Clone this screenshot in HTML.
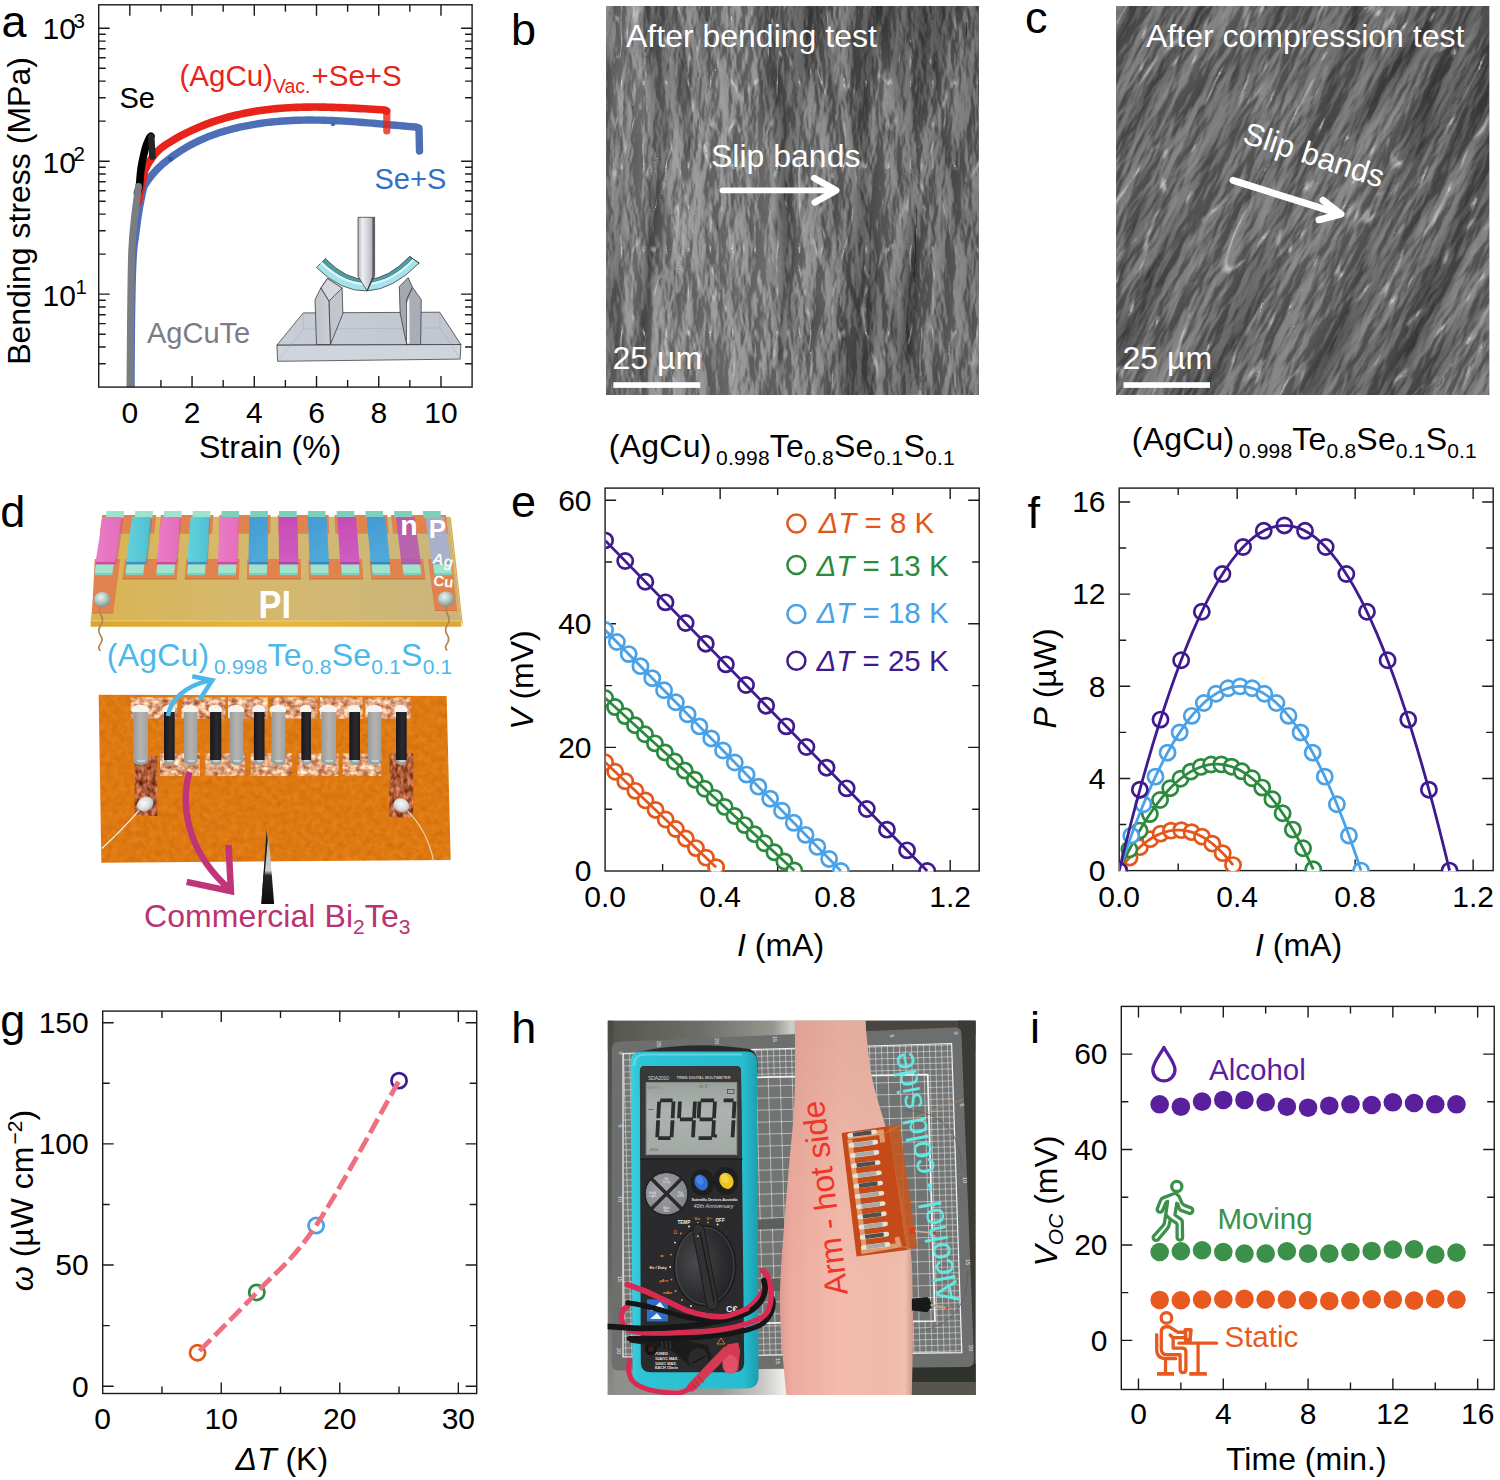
<!DOCTYPE html>
<html><head><meta charset="utf-8"><title>Figure</title>
<style>html,body{margin:0;padding:0;background:#fff}svg{display:block}text{font-family:"Liberation Sans",sans-serif}</style>
</head><body>
<svg width="1500" height="1480" viewBox="0 0 1500 1480" font-family="Liberation Sans, sans-serif">
<rect width="1500" height="1480" fill="#fff"/>
<!-- panel_a -->
<g id="panel_a">
<path d="M129.82 387.1v-11M129.82 4.8v11M192.05 387.1v-11M192.05 4.8v11M254.28 387.1v-11M254.28 4.8v11M316.52 387.1v-11M316.52 4.8v11M378.75 387.1v-11M378.75 4.8v11M440.98 387.1v-11M440.98 4.8v11M160.93 387.1v-7M160.93 4.8v7M223.17 387.1v-7M223.17 4.8v7M285.4 387.1v-7M285.4 4.8v7M347.63 387.1v-7M347.63 4.8v7M409.87 387.1v-7M409.87 4.8v7M98.7 294.16h11M472.1 294.16h-11M98.7 161.19h11M472.1 161.19h-11M98.7 28.22h11M472.1 28.22h-11M98.7 363.68h7M472.1 363.68h-7M98.7 347.07h7M472.1 347.07h-7M98.7 334.19h7M472.1 334.19h-7M98.7 323.66h7M472.1 323.66h-7M98.7 314.75h7M472.1 314.75h-7M98.7 307.04h7M472.1 307.04h-7M98.7 300.24h7M472.1 300.24h-7M98.7 254.13h7M472.1 254.13h-7M98.7 230.71h7M472.1 230.71h-7M98.7 214.1h7M472.1 214.1h-7M98.7 201.21h7M472.1 201.21h-7M98.7 190.69h7M472.1 190.69h-7M98.7 181.78h7M472.1 181.78h-7M98.7 174.07h7M472.1 174.07h-7M98.7 167.27h7M472.1 167.27h-7M98.7 121.16h7M472.1 121.16h-7M98.7 97.74h7M472.1 97.74h-7M98.7 81.13h7M472.1 81.13h-7M98.7 68.24h7M472.1 68.24h-7M98.7 57.71h7M472.1 57.71h-7M98.7 48.81h7M472.1 48.81h-7M98.7 41.1h7M472.1 41.1h-7M98.7 34.3h7M472.1 34.3h-7" stroke="#1a1a1a" stroke-width="1.4" fill="none"/>
<g fill="none" stroke-linecap="round" stroke-linejoin="round">
<path d="M131 387 L131.02 381 L131.05 375 L131.08 369 L131.12 363 L131.16 357 L131.21 351 L131.26 345 L131.31 339 L131.36 333 L131.43 327 L131.5 321 L131.57 315 L131.66 309 L131.75 303 L131.86 297 L131.98 291 L132.11 285 L132.27 279 L132.46 273 L132.69 267 L132.96 261 L133.28 255 L133.68 249 L134.43 243 L135.33 237 L136.1 231 L136.86 225 L137.69 219 L138.61 213 L139.62 207 L140.73 201 L141.96 195 L143.32 189 L143.8 186.66 L147.8 180.55 L151.8 175.27 L155.8 170.68 L159.8 166.66 L163.8 163.1 L167.8 159.88 L171.8 156.88 L175.8 154.06 L179.8 151.4 L183.8 148.9 L187.8 146.56 L191.8 144.37 L195.8 142.32 L199.8 140.4 L203.8 138.61 L207.8 136.95 L211.8 135.39 L215.8 133.95 L219.8 132.61 L223.8 131.36 L227.8 130.21 L231.8 129.13 L235.8 128.13 L239.8 127.2 L243.8 126.33 L247.8 125.53 L251.8 124.8 L255.8 124.12 L259.8 123.5 L263.8 122.94 L267.8 122.44 L271.8 121.98 L275.8 121.59 L279.8 121.24 L283.8 120.94 L287.8 120.69 L291.8 120.48 L295.8 120.31 L299.8 120.19 L303.8 120.11 L307.8 120.07 L311.8 120.06 L315.8 120.09 L319.8 120.15 L323.8 120.24 L327.8 120.36 L331.8 120.52 L335.8 120.69 L339.8 120.89 L343.8 121.12 L347.8 121.36 L351.8 121.62 L355.8 121.91 L359.8 122.2 L363.8 122.51 L367.8 122.84 L371.8 123.17 L375.8 123.51 L379.8 123.86 L383.8 124.22 L387.8 124.58 L391.8 124.94 L395.8 125.3 L399.8 125.66 L403.8 126.01 L407.8 126.37 L411.8 126.71 L415.8 127.05 L416 127.06 L419 128 L419.5 151" stroke="#4c6fb7" stroke-width="7.4"/>
<circle cx="170.5" cy="159" r="2.6" fill="#3256a8" stroke="none"/>
<circle cx="333" cy="124" r="2.2" fill="#456bb4" stroke="none"/>
<path d="M138.3 202 L139.36 196 L140.68 190 L141.97 184 L143.2 178 L144.4 172 L144.6 170.33 L148.6 162.92 L152.6 157 L156.6 152.31 L160.6 148.58 L164.6 145.54 L168.6 142.91 L172.6 140.47 L176.6 138.14 L180.6 135.93 L184.6 133.83 L188.6 131.84 L192.6 129.95 L196.6 128.16 L200.6 126.47 L204.6 124.87 L208.6 123.36 L212.6 121.94 L216.6 120.6 L220.6 119.33 L224.6 118.15 L228.6 117.03 L232.6 115.98 L236.6 115.01 L240.6 114.1 L244.6 113.26 L248.6 112.48 L252.6 111.76 L256.6 111.1 L260.6 110.5 L264.6 109.95 L268.6 109.46 L272.6 109.02 L276.6 108.63 L280.6 108.29 L284.6 108 L288.6 107.74 L292.6 107.54 L296.6 107.37 L300.6 107.24 L304.6 107.14 L308.6 107.08 L312.6 107.06 L316.6 107.06 L320.6 107.09 L324.6 107.15 L328.6 107.24 L332.6 107.35 L336.6 107.48 L340.6 107.62 L344.6 107.79 L348.6 107.97 L352.6 108.16 L356.6 108.37 L360.6 108.59 L364.6 108.81 L368.6 109.04 L372.6 109.27 L376.6 109.51 L380.6 109.74 L384.5 109.97 L386.6 111" stroke="#e8241a" stroke-width="7.6"/>
<path d="M386.8 111 L386.8 131" stroke="#e8241a" stroke-opacity="0.8" stroke-width="7.2"/>
<path d="M137.5 193C137.82 191.8 138.82 189.8 139.4 185.8C139.98 181.8 140.17 174.63 141 169C141.83 163.37 143.4 156.23 144.4 152C145.4 147.77 146.18 145.9 147 143.6C147.82 141.3 148.65 139.43 149.3 138.2C149.95 136.97 150.63 136.53 150.9 136.2" stroke="#000" stroke-width="7.6"/>
<path d="M151.2 137 L152.4 156.5" stroke="#262626" stroke-width="6.6"/>
<path d="M130 387C130.05 380.83 130.17 364.5 130.3 350C130.43 335.5 130.55 316.67 130.8 300C131.05 283.33 131.22 263.4 131.8 250C132.38 236.6 133.18 230.18 134.3 219.6C135.42 209.02 137.8 192.02 138.5 186.5" stroke="#7b7d84" stroke-width="7"/>
</g>
<rect x="120" y="387.1" width="30" height="8" fill="#fff"/>
<rect x="98.7" y="4.8" width="373.4" height="382.3" fill="none" stroke="#1a1a1a" stroke-width="1.4"/>
<text x="129.82" y="422.6" font-size="30" text-anchor="middle" fill="#000" >0</text>
<text x="192.05" y="422.6" font-size="30" text-anchor="middle" fill="#000" >2</text>
<text x="254.28" y="422.6" font-size="30" text-anchor="middle" fill="#000" >4</text>
<text x="316.52" y="422.6" font-size="30" text-anchor="middle" fill="#000" >6</text>
<text x="378.75" y="422.6" font-size="30" text-anchor="middle" fill="#000" >8</text>
<text x="440.98" y="422.6" font-size="30" text-anchor="middle" fill="#000" >10</text>
<text x="42.6" y="39.4" font-size="30">10<tspan font-size="20.5" dy="-11.8" dx="-2.6">3</tspan></text>
<text x="42.6" y="172.8" font-size="30">10<tspan font-size="20.5" dy="-11.8" dx="-2.6">2</tspan></text>
<text x="42.6" y="305.9" font-size="30">10<tspan font-size="20.5" dy="-11.8" dx="-0.6">1</tspan></text>
<text x="199" y="458" font-size="32" text-anchor="start" fill="#000" >Strain (%)</text>
<text transform="translate(29.6,211) rotate(-90)" font-size="32" text-anchor="middle" fill="#000" >Bending stress (MPa)</text>
<text x="1.6" y="36.6" font-size="45" text-anchor="start" fill="#000" >a</text>
<text x="119.5" y="107.5" font-size="29" text-anchor="start" fill="#000" >Se</text>
<text x="179.5" y="86.3" font-size="29.5" fill="#e8241a">(AgCu)<tspan font-size="19.5" dy="6.5">Vac.</tspan><tspan dy="-6.5" dx="1">+Se+S</tspan></text>
<text x="374.5" y="189.3" font-size="29" text-anchor="start" fill="#3270c4" >Se+S</text>
<text x="147" y="343.3" font-size="29" text-anchor="start" fill="#7c7c88" >AgCuTe</text>
<g stroke="#33363b" stroke-width="0.75" stroke-linejoin="round">
<defs>
<linearGradient id="aInd" x1="0" x2="1"><stop offset="0" stop-color="#b4b6bd"/><stop offset="0.3" stop-color="#eeeff2"/><stop offset="0.75" stop-color="#c8cad0"/><stop offset="1" stop-color="#a6a8af"/></linearGradient>
<linearGradient id="aSup" x1="0" x2="1"><stop offset="0" stop-color="#bfc3ca"/><stop offset="1" stop-color="#cdd0d6"/></linearGradient>
<linearGradient id="aBase" x1="0" x2="1"><stop offset="0" stop-color="#c9ced6"/><stop offset="1" stop-color="#c0c5ce"/></linearGradient>
</defs>
<path d="M303.3 312.9 L439.7 312.2 L460.9 344.5 L276.9 345.2Z" fill="url(#aBase)"/>
<path d="M276.9 345.2 L460.9 344.5 L460.2 359.1 L277.6 361.3Z" fill="#d0d5dd"/>
<path d="M277.6 361.3 L303.5 329 L440 328 L460.2 359.1 M303.5 329 L303.3 312.9 M440 328 L439.7 312.2" fill="none" stroke="#9da3ad" stroke-width="0.4"/>
<!-- left support -->
<path d="M328.9 301.2 L320.9 288 L327.5 278.5 L342.1 288 L342.9 313.7 L330.4 344.5Z" fill="#c2c5cc"/>
<path d="M320.9 288 L327.5 278.5 L342.1 288 L328.9 301.2Z" fill="#d4d7dc"/>
<path d="M316.5 344.5 L315 299.7 L320.9 288 L328.9 301.2 L330.4 344.5Z" fill="url(#aSup)"/>
<!-- right support -->
<path d="M406.7 299.7 L412.5 287.3 L408.1 277.7 L399.3 286.5 L400.1 312.9 L406.7 344.5Z" fill="#a4a8b1"/>
<path d="M406.7 344.5 L406.7 299.7 L412.5 287.3 L421.3 299.7 L420.6 344.5Z" fill="#a9adb5"/>
<path d="M406.9 303 L409.3 298 L409.6 343.5 L406.9 343.5Z" fill="#f4f5f7" stroke="none"/>
<!-- specimen arc -->
<path d="M325.3 258.7 Q367.1 301.5 409.6 256.5 L419.1 263.1 Q366.4 316.5 316.5 267.5Z" fill="#a3e3e9"/>
<path d="M325.3 258.7 Q367.1 301.5 409.6 256.5 L413 258.8 Q367 305.5 322 261.8Z" fill="#4f9da4" stroke-width="0.4"/>
<path d="M322 261.8 Q367 305.5 413 258.8 L414.8 260 Q367 308.5 320.2 263.6Z" fill="#d9f6f8" stroke="none"/>
<path d="M409.6 256.5 L419.1 263.1 L418.3 264.2" fill="none"/>
<!-- indenter -->
<path d="M358 217.3 L373.2 217.3 L373.2 276.3 L367.1 290.9 L358 276.3Z" fill="url(#aInd)"/>
<path d="M373.2 217.3 L374.6 217.3 L374.6 275.8 L367.1 290.9 L373.2 276.3Z" fill="#8e9098"/>
</g>
</g>
<!-- panel_b -->
<g id="panel_b">
<defs>
<filter id="semB" x="0" y="0" width="1" height="1" color-interpolation-filters="sRGB">
<feTurbulence type="fractalNoise" baseFrequency="0.015 0.003" numOctaves="2" seed="11" result="a"/>
<feTurbulence type="fractalNoise" baseFrequency="0.05 0.016" numOctaves="4" seed="4" result="b"/>
<feColorMatrix in="a" type="matrix" values="1 0 0 0 0 1 0 0 0 0 1 0 0 0 0 0 0 0 0 1" result="ag"/>
<feColorMatrix in="b" type="matrix" values="0 1 0 0 0 0 1 0 0 0 0 1 0 0 0 0 0 0 0 1" result="bg"/>
<feComposite in="ag" in2="bg" operator="arithmetic" k1="0" k2="0.9" k3="1.1" k4="-0.5" result="h"/>
<feColorMatrix in="h" type="matrix" values="0 0 0 0 0 0 0 0 0 0 0 0 0 0 0 1 0 0 0 0" result="ha"/>
<feDiffuseLighting in="ha" surfaceScale="11" diffuseConstant="1" lighting-color="#fff" result="lit"><feDistantLight azimuth="0" elevation="32"/></feDiffuseLighting>
<feComposite in="lit" in2="h" operator="arithmetic" k1="0" k2="0.72" k3="0.280" k4="0" result="m"/>
<feComponentTransfer in="m" result="base"><feFuncR type="linear" slope="0.34" intercept="0.3"/><feFuncG type="linear" slope="0.34" intercept="0.3"/><feFuncB type="linear" slope="0.34" intercept="0.3"/></feComponentTransfer>
<feTurbulence type="turbulence" baseFrequency="0.017 0.0017" numOctaves="2" seed="21" result="tg"/>
<feColorMatrix in="tg" type="matrix" values="1.512 0 0 0 0.580 1.512 0 0 0 0.580 1.512 0 0 0 0.580 0 0 0 0 1" result="gm"/>
<feBlend in="base" in2="gm" mode="multiply" result="bg2"/>
<feTurbulence type="turbulence" baseFrequency="0.045 0.012" numOctaves="3" seed="5" result="tr"/>
<feColorMatrix in="tr" type="matrix" values="-4.000 0 0 0 0.5 -4.000 0 0 0 0.5 -4.000 0 0 0 0.5 0 0 0 0 1" result="rg"/>
<feBlend in="bg2" in2="rg" mode="screen"/>
</filter>
<clipPath id="clipB"><rect x="606" y="6" width="372.4" height="389"/></clipPath>
</defs>
<rect x="606" y="6" width="372.4" height="389" fill="#727272"/>
<rect x="606" y="6" width="372.4" height="389" filter="url(#semB)"/>
<linearGradient id="bGr" x1="0" x2="1"><stop offset="0" stop-color="#fff" stop-opacity="0.10"/><stop offset="0.45" stop-color="#fff" stop-opacity="0.04"/><stop offset="0.6" stop-color="#000" stop-opacity="0.05"/><stop offset="1" stop-color="#000" stop-opacity="0.12"/></linearGradient><rect x="606" y="6" width="372.4" height="389" fill="url(#bGr)"/>
<text x="626" y="47.3" font-size="32" text-anchor="start" fill="#fff" >After bending test</text>
<text x="711" y="167.3" font-size="32" text-anchor="start" fill="#fff" >Slip bands</text>
<path d="M722.5 190.3 H835" fill="none" stroke="#fff" stroke-width="5.7" stroke-linecap="round"/><path d="M814.3 178.2 L836.2 190.3 L814.8 202.4" fill="none" stroke="#fff" stroke-width="6.6" stroke-linecap="round" stroke-linejoin="round"/>
<text x="612.5" y="369" font-size="32" text-anchor="start" fill="#fff" >25 µm</text>
<rect x="613.3" y="382.2" width="87" height="5.7" fill="#fff"/>
<text x="608.8" y="457.3" font-size="32" textLength="346">(AgCu)<tspan font-size="21" dy="7.6" dx="4.5">0.998</tspan><tspan dy="-7.6">Te</tspan><tspan font-size="21" dy="7.6">0.8</tspan><tspan dy="-7.6">Se</tspan><tspan font-size="21" dy="7.6">0.1</tspan><tspan dy="-7.6">S</tspan><tspan font-size="21" dy="7.6">0.1</tspan></text>
<text x="511.1" y="45" font-size="45" text-anchor="start" fill="#000" >b</text>
</g>
<!-- panel_c -->
<g id="panel_c">
<defs>
<filter id="semC" x="0" y="0" width="1" height="1" color-interpolation-filters="sRGB">
<feTurbulence type="fractalNoise" baseFrequency="0.013 0.0028" numOctaves="2" seed="23" result="a"/>
<feTurbulence type="fractalNoise" baseFrequency="0.042 0.011" numOctaves="4" seed="9" result="b"/>
<feColorMatrix in="a" type="matrix" values="1 0 0 0 0 1 0 0 0 0 1 0 0 0 0 0 0 0 0 1" result="ag"/>
<feColorMatrix in="b" type="matrix" values="0 1 0 0 0 0 1 0 0 0 0 1 0 0 0 0 0 0 0 1" result="bg"/>
<feComposite in="ag" in2="bg" operator="arithmetic" k1="0" k2="0.9" k3="1.1" k4="-0.5" result="h"/>
<feColorMatrix in="h" type="matrix" values="0 0 0 0 0 0 0 0 0 0 0 0 0 0 0 1 0 0 0 0" result="ha"/>
<feDiffuseLighting in="ha" surfaceScale="11" diffuseConstant="1" lighting-color="#fff" result="lit"><feDistantLight azimuth="180" elevation="32"/></feDiffuseLighting>
<feComposite in="lit" in2="h" operator="arithmetic" k1="0" k2="0.72" k3="0.280" k4="0" result="m"/>
<feComponentTransfer in="m" result="base"><feFuncR type="linear" slope="0.3" intercept="0.275"/><feFuncG type="linear" slope="0.3" intercept="0.275"/><feFuncB type="linear" slope="0.3" intercept="0.275"/></feComponentTransfer>
<feTurbulence type="turbulence" baseFrequency="0.015 0.0016" numOctaves="2" seed="31" result="tg"/>
<feColorMatrix in="tg" type="matrix" values="1.292 0 0 0 0.660 1.292 0 0 0 0.660 1.292 0 0 0 0.660 0 0 0 0 1" result="gm"/>
<feBlend in="base" in2="gm" mode="multiply" result="bg2"/>
<feTurbulence type="turbulence" baseFrequency="0.035 0.008" numOctaves="3" seed="14" result="tr"/>
<feColorMatrix in="tr" type="matrix" values="-4.400 0 0 0 0.55 -4.400 0 0 0 0.55 -4.400 0 0 0 0.55 0 0 0 0 1" result="rg"/>
<feBlend in="bg2" in2="rg" mode="screen"/>
</filter>
<clipPath id="clipC"><rect x="1116.2" y="6" width="373.0" height="389"/></clipPath>
</defs>
<rect x="1116.2" y="6" width="373.0" height="389" fill="#6e6e6e"/>
<g clip-path="url(#clipC)"><rect x="1012.7" y="-89.5" width="580" height="580" transform="rotate(27 1302.7 200.5)" filter="url(#semC)"/></g>
<text x="1146" y="46.5" font-size="32" text-anchor="start" fill="#fff" >After compression test</text>
<text transform="translate(1241.3,142.3) rotate(18.2)" font-size="31.3" fill="#fff">Slip bands</text>
<path d="M1233 180.4 L1338 213.4" fill="none" stroke="#fff" stroke-width="6.9" stroke-linecap="round"/><path d="M1323 200.3 L1341 214.2 L1319 219.8" fill="none" stroke="#fff" stroke-width="7" stroke-linecap="round" stroke-linejoin="round"/>
<text x="1122.5" y="369" font-size="32" text-anchor="start" fill="#fff" >25 µm</text>
<rect x="1123.5" y="382.2" width="86.5" height="5.7" fill="#fff"/>
<text x="1131.8" y="450" font-size="32" textLength="345">(AgCu)<tspan font-size="21" dy="7.6" dx="4.5">0.998</tspan><tspan dy="-7.6">Te</tspan><tspan font-size="21" dy="7.6">0.8</tspan><tspan dy="-7.6">Se</tspan><tspan font-size="21" dy="7.6">0.1</tspan><tspan dy="-7.6">S</tspan><tspan font-size="21" dy="7.6">0.1</tspan></text>
<text x="1025" y="33.3" font-size="45" text-anchor="start" fill="#000" >c</text>
</g>
<!-- panel_d -->
<g id="panel_d">
<defs>
<linearGradient id="dPI" x1="0" x2="1"><stop offset="0" stop-color="#dab452"/><stop offset="0.35" stop-color="#d6b86a"/><stop offset="0.75" stop-color="#cfb777"/><stop offset="1" stop-color="#cbb47c"/></linearGradient>
<linearGradient id="dPIf" x1="0" x2="1"><stop offset="0" stop-color="#d9a530"/><stop offset="0.5" stop-color="#e6b73c"/><stop offset="1" stop-color="#d8a838"/></linearGradient>
<radialGradient id="dSol" cx="0.4" cy="0.35" r="0.7"><stop offset="0" stop-color="#eef4f1"/><stop offset="0.5" stop-color="#b4c8c2"/><stop offset="1" stop-color="#6f8f88"/></radialGradient>
<linearGradient id="gPink" x1="0" x2="1"><stop offset="0" stop-color="#ea7cc6"/><stop offset="1" stop-color="#e46fbc"/></linearGradient>
<linearGradient id="gCyan" x1="0" x2="1"><stop offset="0" stop-color="#62d2dc"/><stop offset="1" stop-color="#4fc0d2"/></linearGradient>
<linearGradient id="gBlue" x1="0" y1="0" x2="0.3" y2="1"><stop offset="0" stop-color="#459ad2"/><stop offset="1" stop-color="#4fa9d8"/></linearGradient>
<linearGradient id="gMag" x1="0" y1="0" x2="0" y2="1"><stop offset="0" stop-color="#c64cb6"/><stop offset="1" stop-color="#cf5cc0"/></linearGradient>
</defs>
<polygon points="102.67,516.67 449.33,516.67 461.33,620.67 90.67,620.67" fill="url(#dPI)" />
<polygon points="90.67,620.67 461.33,620.67 461.33,626.87 90.67,626.87" fill="url(#dPIf)"/>
<line x1="90.67" y1="621.07" x2="461.33" y2="621.07" stroke="#ecc75a" stroke-width="0.9"/>
<polygon points="449.33,516.67 450.93,517.67 463.13,626.87 461.33,620.67" fill="#e0ad3a"/>
<polygon points="102.2,515 156.25,515 154.31,532.4 99.85,532.4" fill="#e0834f" />
<polygon points="99.85,532.4 154.31,532.4 154.31,533.6 99.85,533.6" fill="#d0763f" />
<polygon points="160.84,515 213.39,515 212.27,532.4 159.31,532.4" fill="#e0834f" />
<polygon points="159.31,532.4 212.27,532.4 212.27,533.6 159.31,533.6" fill="#d0763f" />
<polygon points="219.48,515 270.52,515 270.24,532.4 218.78,532.4" fill="#e0834f" />
<polygon points="218.78,532.4 270.24,532.4 270.24,533.6 218.78,533.6" fill="#d0763f" />
<polygon points="277.82,515 328.64,515 329.18,532.4 277.94,532.4" fill="#e0834f" />
<polygon points="277.94,532.4 329.18,532.4 329.18,533.6 277.94,533.6" fill="#d0763f" />
<polygon points="334.46,515 387.28,515 388.64,532.4 335.41,532.4" fill="#e0834f" />
<polygon points="335.41,532.4 388.64,532.4 388.64,533.6 335.41,533.6" fill="#d0763f" />
<polygon points="391.1,515 445.92,515 448.11,532.4 392.87,532.4" fill="#e0834f" />
<polygon points="392.87,532.4 448.11,532.4 448.11,533.6 392.87,533.6" fill="#d0763f" />
<polygon points="125.06,559 178.62,559 176.77,577.8 122.6,577.8" fill="#e0834f" />
<polygon points="122.6,577.8 176.77,577.8 176.77,579.4 122.6,579.4" fill="#d0763f" />
<polygon points="186.15,559 239.76,559 238.91,577.8 184.74,577.8" fill="#e0834f" />
<polygon points="184.74,577.8 238.91,577.8 238.91,579.4 184.74,579.4" fill="#d0763f" />
<polygon points="247.24,559 300.89,559 301.04,577.8 246.88,577.8" fill="#e0834f" />
<polygon points="246.88,577.8 301.04,577.8 301.04,579.4 246.88,579.4" fill="#d0763f" />
<polygon points="308.33,559 362.03,559 363.18,577.8 309.01,577.8" fill="#e0834f" />
<polygon points="309.01,577.8 363.18,577.8 363.18,579.4 309.01,579.4" fill="#d0763f" />
<polygon points="369.42,559 423.17,559 425.32,577.8 371.15,577.8" fill="#e0834f" />
<polygon points="371.15,577.8 425.32,577.8 425.32,579.4 371.15,579.4" fill="#d0763f" />
<polygon points="94.78,559 120.3,559 113.3,612.3 92,612.3" fill="#e0834f" />
<polygon points="428,559 451.84,559 457,609.7 434.7,609.7" fill="#e0834f" />
<polygon points="92,612.3 113.3,612.3 113.2,613.6 91.9,613.6" fill="#d0763f" />
<polygon points="434.7,609.7 457,609.7 457.1,611 434.8,611" fill="#d0763f" />
<polygon points="106.51,511 124.21,511 123.56,518 105.86,518" fill="#9fe3cc" />
<polygon points="96.38,562 114.17,562 112.39,573.2 94.59,573.2" fill="#9fe3cc" />
<polygon points="94.59,573.2 112.39,573.2 112.39,575.2 94.59,575.2" fill="#7fd0bb" />
<polygon points="135.26,511 152.96,511 152.44,518 134.74,518" fill="#9fe3cc" />
<polygon points="126.95,562 144.75,562 143.28,573.2 125.48,573.2" fill="#9fe3cc" />
<polygon points="125.48,573.2 143.28,573.2 143.28,575.2 125.48,575.2" fill="#7fd0bb" />
<polygon points="164.02,511 181.72,511 181.3,518 163.6,518" fill="#9fe3cc" />
<polygon points="157.52,562 175.31,562 174.16,573.2 156.36,573.2" fill="#9fe3cc" />
<polygon points="156.36,573.2 174.16,573.2 174.16,575.2 156.36,575.2" fill="#7fd0bb" />
<polygon points="192.78,511 210.48,511 210.18,518 192.48,518" fill="#9fe3cc" />
<polygon points="188.09,562 205.89,562 205.04,573.2 187.24,573.2" fill="#9fe3cc" />
<polygon points="187.24,573.2 205.04,573.2 205.04,575.2 187.24,575.2" fill="#7fd0bb" />
<polygon points="221.54,511 239.24,511 239.04,518 221.34,518" fill="#7fd0bb" />
<polygon points="218.66,562 236.46,562 235.92,573.2 218.12,573.2" fill="#9fe3cc" />
<polygon points="218.12,573.2 235.92,573.2 235.92,575.2 218.12,575.2" fill="#7fd0bb" />
<polygon points="250.29,511 267.99,511 267.92,518 250.22,518" fill="#7fd0bb" />
<polygon points="249.23,562 267.02,562 266.81,573.2 249.01,573.2" fill="#9fe3cc" />
<polygon points="249.01,573.2 266.81,573.2 266.81,575.2 249.01,575.2" fill="#7fd0bb" />
<polygon points="279.05,511 296.75,511 296.79,518 279.09,518" fill="#7fd0bb" />
<polygon points="279.8,562 297.59,562 297.69,573.2 279.89,573.2" fill="#9fe3cc" />
<polygon points="279.89,573.2 297.69,573.2 297.69,575.2 279.89,575.2" fill="#7fd0bb" />
<polygon points="307.81,511 325.51,511 325.66,518 307.96,518" fill="#7fd0bb" />
<polygon points="310.37,562 328.16,562 328.57,573.2 310.77,573.2" fill="#9fe3cc" />
<polygon points="310.77,573.2 328.57,573.2 328.57,575.2 310.77,575.2" fill="#7fd0bb" />
<polygon points="336.57,511 354.27,511 354.52,518 336.82,518" fill="#7fd0bb" />
<polygon points="340.94,562 358.73,562 359.45,573.2 341.65,573.2" fill="#9fe3cc" />
<polygon points="341.65,573.2 359.45,573.2 359.45,575.2 341.65,575.2" fill="#7fd0bb" />
<polygon points="365.32,511 383.02,511 383.39,518 365.69,518" fill="#7fd0bb" />
<polygon points="371.5,562 389.3,562 390.34,573.2 372.54,573.2" fill="#9fe3cc" />
<polygon points="372.54,573.2 390.34,573.2 390.34,575.2 372.54,575.2" fill="#7fd0bb" />
<polygon points="394.08,511 411.78,511 412.26,518 394.56,518" fill="#7fd0bb" />
<polygon points="402.07,562 419.87,562 421.22,573.2 403.42,573.2" fill="#9fe3cc" />
<polygon points="403.42,573.2 421.22,573.2 421.22,575.2 403.42,575.2" fill="#7fd0bb" />
<polygon points="422.84,511 440.54,511 441.13,518 423.44,518" fill="#7fd0bb" />
<polygon points="432.64,562 450.44,562 452.1,573.2 434.3,573.2" fill="#9fe3cc" />
<polygon points="434.3,573.2 452.1,573.2 452.1,575.2 434.3,575.2" fill="#7fd0bb" />
<polygon points="95.58,561.7 114.97,561.7 114.97,564.4 95.58,564.4" fill="#d04a9e" />
<polygon points="102.7,517 121.4,517 114.97,561.7 95.58,561.7" fill="url(#gPink)" />
<polygon points="121.4,517 123.4,518.5 116.97,564.4 114.97,564.4 114.97,561.7" fill="#d04a9e"  fill-opacity="0.55"/>
<polygon points="126.15,561.7 145.55,561.7 145.55,564.4 126.15,564.4" fill="#3f8fc4" />
<polygon points="132.02,517 150.72,517 145.55,561.7 126.15,561.7" fill="url(#gCyan)" />
<polygon points="150.72,517 152.37,518.5 147.19,564.4 145.55,564.4 145.55,561.7" fill="#3f8fc4"  fill-opacity="0.55"/>
<polygon points="156.72,561.7 176.12,561.7 176.12,564.4 156.72,564.4" fill="#d04a9e" />
<polygon points="161.34,517 180.04,517 176.12,561.7 156.72,561.7" fill="url(#gPink)" />
<polygon points="180.04,517 181.33,518.5 177.41,564.4 176.12,564.4 176.12,561.7" fill="#d04a9e"  fill-opacity="0.55"/>
<polygon points="187.29,561.7 206.69,561.7 206.69,564.4 187.29,564.4" fill="#3f8fc4" />
<polygon points="190.66,517 209.36,517 206.69,561.7 187.29,561.7" fill="url(#gCyan)" />
<polygon points="209.36,517 210.31,518.5 207.63,564.4 206.69,564.4 206.69,561.7" fill="#3f8fc4"  fill-opacity="0.55"/>
<polygon points="217.86,561.7 237.26,561.7 237.26,564.4 217.86,564.4" fill="#d04a9e" />
<polygon points="219.98,517 238.68,517 237.26,561.7 217.86,561.7" fill="url(#gPink)" />
<polygon points="238.68,517 239.28,518.5 237.85,564.4 237.26,564.4 237.26,561.7" fill="#d04a9e"  fill-opacity="0.55"/>
<polygon points="248.43,561.7 267.82,561.7 267.82,564.4 248.43,564.4" fill="#3a86c0" />
<polygon points="249.3,517 268,517 267.82,561.7 248.43,561.7" fill="url(#gBlue)" />
<polygon points="279,561.7 298.39,561.7 298.39,564.4 279,564.4" fill="#b343a4" />
<polygon points="278.62,517 297.32,517 298.39,561.7 279,561.7" fill="url(#gMag)" />
<polygon points="309.56,561.7 328.96,561.7 328.96,564.4 309.56,564.4" fill="#3a86c0" />
<polygon points="307.94,517 326.64,517 328.96,561.7 309.56,561.7" fill="url(#gBlue)" />
<polygon points="340.13,561.7 359.53,561.7 359.53,564.4 340.13,564.4" fill="#b343a4" />
<polygon points="337.26,517 355.96,517 359.53,561.7 340.13,561.7" fill="url(#gMag)" />
<polygon points="370.7,561.7 390.1,561.7 390.1,564.4 370.7,564.4" fill="#3a86c0" />
<polygon points="366.58,517 385.28,517 390.1,561.7 370.7,561.7" fill="url(#gBlue)" />
<polygon points="401.27,561.7 420.67,561.7 420.67,564.4 401.27,564.4" fill="#a048a2"  fill-opacity="0.86"/>
<polygon points="395.9,517 414.6,517 420.67,561.7 401.27,561.7" fill="#b455b4"  fill-opacity="0.86"/>
<polygon points="431.84,561.7 451.24,561.7 451.24,564.4 431.84,564.4" fill="#8f9cc6"  fill-opacity="0.86"/>
<polygon points="425.22,517 443.92,517 451.24,561.7 431.84,561.7" fill="#a3afd6"  fill-opacity="0.86"/>
<path d="M104.6 604.5 q-3 6 0 11 q3 5 -0.5 10 q-3.5 5 0 10 q3 4.5 -0.5 9 q-2.5 3.5 0 6" fill="none" stroke="#b5834f" stroke-width="1.7" stroke-linecap="round" transform="translate(-3.5,0)"/>
<ellipse cx="102.4" cy="599.5" rx="8.2" ry="7.6" fill="url(#dSol)"/>
<path d="M443.8 604 q-3 6 0 11 q3 5 -0.5 10 q-3.5 5 0 10 q3 4.5 -0.5 9 q-2.5 3.5 0 6" fill="none" stroke="#b5834f" stroke-width="1.7" stroke-linecap="round" transform="translate(4,0)"/>
<ellipse cx="446" cy="599" rx="8.2" ry="7.6" fill="url(#dSol)"/>
<text x="258.5" y="618" font-size="39" font-weight="bold" fill="#fff" textLength="32.5" lengthAdjust="spacingAndGlyphs">PI</text>
<text x="400.3" y="535" font-size="28.5" font-weight="bold" fill="#fff">n</text>
<text x="428.8" y="538.3" font-size="26" font-weight="bold" fill="#fff">P</text>
<text transform="translate(431.8,563) rotate(14)" font-size="15.5" font-weight="bold" fill="#fff" fill-opacity="0.95">Ag</text>
<text transform="translate(433,585.5) rotate(6)" font-size="15" font-weight="bold" fill="#fff">Cu</text>
<text x="106.8" y="666" font-size="32" fill="#4bb8ea" textLength="345.5">(AgCu)<tspan font-size="21" dy="7.6" dx="4.5">0.998</tspan><tspan dy="-7.6">Te</tspan><tspan font-size="21" dy="7.6">0.8</tspan><tspan dy="-7.6">Se</tspan><tspan font-size="21" dy="7.6">0.1</tspan><tspan dy="-7.6">S</tspan><tspan font-size="21" dy="7.6">0.1</tspan></text>
<text x="0.2" y="527.3" font-size="45" text-anchor="start" fill="#000" >d</text>
<defs>
<filter id="dTex" x="0" y="0" width="1" height="1" color-interpolation-filters="sRGB">
<feTurbulence type="fractalNoise" baseFrequency="0.16" numOctaves="3" seed="7" result="n"/>
<feColorMatrix in="n" type="matrix" values="0.10 0 0 0 0.82  0.13 0 0 0 0.41  0.06 0 0 0 0.04  0 0 0 0 1"/>
<feComposite in2="SourceGraphic" operator="in"/>
</filter>
<filter id="dCu" x="0" y="0" width="1" height="1" color-interpolation-filters="sRGB">
<feTurbulence type="fractalNoise" baseFrequency="0.16 0.2" numOctaves="3" seed="3" result="n"/>
<feColorMatrix in="n" type="matrix" values="0.75 0 0 0 0.50  1.05 0 0 0 0.12  1.1 0 0 0 -0.05  0 0 0 0 1"/>
<feComposite in2="SourceGraphic" operator="in"/>
</filter>
<filter id="dCu2" x="0" y="0" width="1" height="1" color-interpolation-filters="sRGB">
<feTurbulence type="fractalNoise" baseFrequency="0.25 0.15" numOctaves="2" seed="5" result="n"/>
<feColorMatrix in="n" type="matrix" values="0.9 0 0 0 0.22  0.7 0 0 0 0.0  0.6 0 0 0 -0.08  0 0 0 0 1"/>
<feComposite in2="SourceGraphic" operator="in"/>
</filter>
<linearGradient id="dGray" x1="0" x2="1"><stop offset="0" stop-color="#9a9a9a"/><stop offset="0.5" stop-color="#b4b4b2"/><stop offset="1" stop-color="#a2a2a0"/></linearGradient>
<linearGradient id="dBlk" x1="0" x2="1"><stop offset="0" stop-color="#17171b"/><stop offset="0.6" stop-color="#2a2a30"/><stop offset="1" stop-color="#1c1c20"/></linearGradient>
<radialGradient id="dBlob" cx="0.45" cy="0.4" r="0.65"><stop offset="0" stop-color="#fafafa"/><stop offset="0.6" stop-color="#d9dcdc"/><stop offset="1" stop-color="#9fa6a6"/></radialGradient>
<linearGradient id="dTw" x1="0" y1="0" x2="0" y2="1"><stop offset="0" stop-color="#a5a5a0"/><stop offset="0.55" stop-color="#d2d2cc"/><stop offset="0.62" stop-color="#26262a"/><stop offset="1" stop-color="#0c0c0e"/></linearGradient>
</defs>
<polygon points="98.67,694.67 446.67,696 450.67,860 101.33,862.67" fill="#de7912" filter="url(#dTex)"/>
<rect x="130.67" y="697.33" width="46.67" height="21.33" fill="#e6a07e" filter="url(#dCu)"/>
<rect x="181.33" y="697.33" width="44" height="21.33" fill="#e6a07e" filter="url(#dCu)"/>
<rect x="228" y="697.33" width="40" height="21.33" fill="#e6a07e" filter="url(#dCu)"/>
<rect x="270.67" y="697.33" width="46.67" height="21.33" fill="#e6a07e" filter="url(#dCu)"/>
<rect x="320" y="697.33" width="42.67" height="21.33" fill="#e6a07e" filter="url(#dCu)"/>
<rect x="365.33" y="697.33" width="45.33" height="21.33" fill="#e6a07e" filter="url(#dCu)"/>
<rect x="160" y="753.33" width="40" height="22.67" fill="#e6a07e" filter="url(#dCu)"/>
<rect x="205.33" y="753.33" width="40" height="22.67" fill="#e6a07e" filter="url(#dCu)"/>
<rect x="250.67" y="753.33" width="41.33" height="22.67" fill="#e6a07e" filter="url(#dCu)"/>
<rect x="297.33" y="753.33" width="41.33" height="22.67" fill="#e6a07e" filter="url(#dCu)"/>
<rect x="342.67" y="753.33" width="38.67" height="22.67" fill="#e6a07e" filter="url(#dCu)"/>
<rect x="134.67" y="756" width="22.67" height="60" fill="#c0683a" filter="url(#dCu2)"/>
<rect x="389.33" y="753.33" width="24" height="64" fill="#c0683a" filter="url(#dCu2)"/>
<ellipse cx="140.17" cy="709.87" rx="9.09" ry="5.2" fill="#f6f4f0"/>
<ellipse cx="140.67" cy="760.53" rx="7.33" ry="4.4" fill="#93a4a2"/>
<ellipse cx="141.27" cy="759.93" rx="4.4" ry="2.2" fill="#c9d2d0"/>
<rect x="133.33" y="712" width="14.67" height="48" fill="url(#dGray)" />
<ellipse cx="168.83" cy="709.87" rx="6.61" ry="5.2" fill="#f6f4f0"/>
<ellipse cx="169.33" cy="760.53" rx="5.33" ry="4.4" fill="#93a4a2"/>
<ellipse cx="169.93" cy="759.93" rx="3.2" ry="2.2" fill="#c9d2d0"/>
<rect x="164" y="712" width="10.67" height="48" fill="url(#dBlk)" />
<ellipse cx="190.17" cy="709.87" rx="8.27" ry="5.2" fill="#f6f4f0"/>
<ellipse cx="190.67" cy="760.53" rx="6.67" ry="4.4" fill="#93a4a2"/>
<ellipse cx="191.27" cy="759.93" rx="4" ry="2.2" fill="#c9d2d0"/>
<rect x="184" y="712" width="13.33" height="48" fill="url(#dGray)" />
<ellipse cx="215.23" cy="709.87" rx="6.94" ry="5.2" fill="#f6f4f0"/>
<ellipse cx="215.73" cy="760.53" rx="5.6" ry="4.4" fill="#93a4a2"/>
<ellipse cx="216.33" cy="759.93" rx="3.36" ry="2.2" fill="#c9d2d0"/>
<rect x="210.13" y="712" width="11.2" height="48" fill="url(#dBlk)" />
<ellipse cx="236.03" cy="709.87" rx="8.27" ry="5.2" fill="#f6f4f0"/>
<ellipse cx="236.53" cy="760.53" rx="6.67" ry="4.4" fill="#93a4a2"/>
<ellipse cx="237.13" cy="759.93" rx="4" ry="2.2" fill="#c9d2d0"/>
<rect x="229.87" y="712" width="13.33" height="48" fill="url(#dGray)" />
<ellipse cx="258.7" cy="709.87" rx="6.61" ry="5.2" fill="#f6f4f0"/>
<ellipse cx="259.2" cy="760.53" rx="5.33" ry="4.4" fill="#93a4a2"/>
<ellipse cx="259.8" cy="759.93" rx="3.2" ry="2.2" fill="#c9d2d0"/>
<rect x="253.87" y="712" width="10.67" height="48" fill="url(#dBlk)" />
<ellipse cx="277.9" cy="709.87" rx="8.6" ry="5.2" fill="#f6f4f0"/>
<ellipse cx="278.4" cy="760.53" rx="6.93" ry="4.4" fill="#93a4a2"/>
<ellipse cx="279" cy="759.93" rx="4.16" ry="2.2" fill="#c9d2d0"/>
<rect x="271.47" y="712" width="13.87" height="48" fill="url(#dGray)" />
<ellipse cx="305.63" cy="709.87" rx="5.95" ry="5.2" fill="#f6f4f0"/>
<ellipse cx="306.13" cy="760.53" rx="4.8" ry="4.4" fill="#93a4a2"/>
<ellipse cx="306.73" cy="759.93" rx="2.88" ry="2.2" fill="#c9d2d0"/>
<rect x="301.33" y="712" width="9.6" height="48" fill="url(#dBlk)" />
<ellipse cx="328.17" cy="709.87" rx="9.09" ry="5.2" fill="#f6f4f0"/>
<ellipse cx="328.67" cy="760.53" rx="7.33" ry="4.4" fill="#93a4a2"/>
<ellipse cx="329.27" cy="759.93" rx="4.4" ry="2.2" fill="#c9d2d0"/>
<rect x="321.33" y="712" width="14.67" height="48" fill="url(#dGray)" />
<ellipse cx="354.17" cy="709.87" rx="6.61" ry="5.2" fill="#f6f4f0"/>
<ellipse cx="354.67" cy="760.53" rx="5.33" ry="4.4" fill="#93a4a2"/>
<ellipse cx="355.27" cy="759.93" rx="3.2" ry="2.2" fill="#c9d2d0"/>
<rect x="349.33" y="712" width="10.67" height="48" fill="url(#dBlk)" />
<ellipse cx="374.17" cy="709.87" rx="8.27" ry="5.2" fill="#f6f4f0"/>
<ellipse cx="374.67" cy="760.53" rx="6.67" ry="4.4" fill="#93a4a2"/>
<ellipse cx="375.27" cy="759.93" rx="4" ry="2.2" fill="#c9d2d0"/>
<rect x="368" y="712" width="13.33" height="48" fill="url(#dGray)" />
<ellipse cx="400.83" cy="709.87" rx="6.61" ry="5.2" fill="#f6f4f0"/>
<ellipse cx="401.33" cy="760.53" rx="5.33" ry="4.4" fill="#93a4a2"/>
<ellipse cx="401.93" cy="759.93" rx="3.2" ry="2.2" fill="#c9d2d0"/>
<rect x="396" y="712" width="10.67" height="48" fill="url(#dBlk)" />
<path d="M139.2 810.13 Q122.67 829.33 101.87 848.53" fill="none" stroke="#f4efe6" stroke-width="1.3"/>
<path d="M407.47 811.2 Q426.67 829.33 433.6 860.8" fill="none" stroke="#e8d8c4" stroke-width="1.1"/>
<ellipse cx="145.33" cy="804" rx="8.5" ry="7" fill="url(#dBlob)" transform="rotate(-30 145.33 804)"/>
<ellipse cx="401.33" cy="805.33" rx="8" ry="6.8" fill="url(#dBlob)" transform="rotate(25 401.33 805.33)"/>
<polygon points="267.2,829.33 269.87,850.67 274.13,904 261.33,904 264,866.67" fill="url(#dTw)"/>
<polygon points="266.67,829.87 267.73,840 264,882.67 261.87,904 261.33,904 264,866.67" fill="#1a1a1e"/>
<path d="M189.33 772 C178.67 813.33 192 856 229.87 889.33 M186.67 881.87 L230.93 891.2 L228.53 844.8" fill="none" stroke="#c2347a" stroke-width="6.5" stroke-linejoin="miter"/>
<path d="M168 716 C170.5 699 186 685.5 209.5 680.6 M192.2 676.3 L212.3 680.2 L199.6 699.6" fill="none" stroke="#4bb8ea" stroke-width="4.5" stroke-linejoin="miter" stroke-linecap="butt"/>
<text x="144" y="926.7" font-size="32" fill="#b93274" textLength="266.5">Commercial Bi<tspan font-size="21" dy="7">2</tspan><tspan dy="-7">Te</tspan><tspan font-size="21" dy="7">3</tspan></text>
</g>
<!-- panel_e -->
<g id="panel_e">
<clipPath id="clipE"><rect x="605.8" y="488.1" width="374.1" height="383.6"/></clipPath>
<rect x="605.1" y="488.1" width="374.1" height="382.9" fill="none" stroke="#1a1a1a" stroke-width="1.4"/>
<path d="M720.14 871v-11M720.14 488.1v11M835.17 871v-11M835.17 488.1v11M950.21 871v-11M950.21 488.1v11M662.62 871v-7M662.62 488.1v7M777.66 871v-7M777.66 488.1v7M892.69 871v-7M892.69 488.1v7M605.1 747.4h11M979.2 747.4h-11M605.1 623.81h11M979.2 623.81h-11M605.1 500.21h11M979.2 500.21h-11M605.1 809.2h7M979.2 809.2h-7M605.1 685.61h7M979.2 685.61h-7M605.1 562.01h7M979.2 562.01h-7" stroke="#1a1a1a" stroke-width="1.4" fill="none"/>
<g clip-path="url(#clipE)" fill="none">
<g stroke="#e4571b" stroke-width="2.7" fill="#fff"><circle cx="605.1" cy="762.24" r="7.6"/><circle cx="615.19" cy="771.78" r="7.6"/><circle cx="625.28" cy="781.32" r="7.6"/><circle cx="635.38" cy="790.86" r="7.6"/><circle cx="645.47" cy="800.4" r="7.6"/><circle cx="655.56" cy="809.94" r="7.6"/><circle cx="665.65" cy="819.49" r="7.6"/><circle cx="675.74" cy="829.03" r="7.6"/><circle cx="685.83" cy="838.57" r="7.6"/><circle cx="695.93" cy="848.11" r="7.6"/><circle cx="706.02" cy="857.65" r="7.6"/><circle cx="716.11" cy="867.19" r="7.6"/></g>
<line x1="605.1" y1="762.24" x2="716.11" y2="867.19" stroke="#e4571b" stroke-width="2.8" />
<g stroke="#2b8a3e" stroke-width="2.7" fill="#fff"><circle cx="605.1" cy="697.97" r="7.6"/><circle cx="615.06" cy="707.05" r="7.6"/><circle cx="625.02" cy="716.12" r="7.6"/><circle cx="634.98" cy="725.2" r="7.6"/><circle cx="644.94" cy="734.28" r="7.6"/><circle cx="654.9" cy="743.36" r="7.6"/><circle cx="664.86" cy="752.44" r="7.6"/><circle cx="674.82" cy="761.52" r="7.6"/><circle cx="684.78" cy="770.6" r="7.6"/><circle cx="694.74" cy="779.68" r="7.6"/><circle cx="704.7" cy="788.76" r="7.6"/><circle cx="714.66" cy="797.84" r="7.6"/><circle cx="724.62" cy="806.92" r="7.6"/><circle cx="734.58" cy="816" r="7.6"/><circle cx="744.54" cy="825.08" r="7.6"/><circle cx="754.5" cy="834.16" r="7.6"/><circle cx="764.46" cy="843.24" r="7.6"/><circle cx="774.42" cy="852.32" r="7.6"/><circle cx="784.38" cy="861.4" r="7.6"/><circle cx="794.34" cy="870.48" r="7.6"/></g>
<line x1="605.1" y1="697.97" x2="794.34" y2="870.48" stroke="#2b8a3e" stroke-width="2.8" />
<g stroke="#4aa1e6" stroke-width="2.7" fill="#fff"><circle cx="605.1" cy="629.99" r="7.6"/><circle cx="616.89" cy="642.04" r="7.6"/><circle cx="628.68" cy="654.09" r="7.6"/><circle cx="640.47" cy="666.14" r="7.6"/><circle cx="652.27" cy="678.19" r="7.6"/><circle cx="664.06" cy="690.24" r="7.6"/><circle cx="675.85" cy="702.29" r="7.6"/><circle cx="687.64" cy="714.34" r="7.6"/><circle cx="699.43" cy="726.39" r="7.6"/><circle cx="711.22" cy="738.44" r="7.6"/><circle cx="723.01" cy="750.49" r="7.6"/><circle cx="734.8" cy="762.54" r="7.6"/><circle cx="746.6" cy="774.6" r="7.6"/><circle cx="758.39" cy="786.65" r="7.6"/><circle cx="770.18" cy="798.7" r="7.6"/><circle cx="781.97" cy="810.75" r="7.6"/><circle cx="793.76" cy="822.8" r="7.6"/><circle cx="805.55" cy="834.85" r="7.6"/><circle cx="817.34" cy="846.9" r="7.6"/><circle cx="829.13" cy="858.95" r="7.6"/><circle cx="840.93" cy="871" r="7.6"/></g>
<line x1="605.1" y1="629.99" x2="840.93" y2="871" stroke="#4aa1e6" stroke-width="2.8" />
<g stroke="#3f1b8f" stroke-width="2.7" fill="#fff"><circle cx="605.1" cy="540.38" r="7.6"/><circle cx="625.23" cy="561.04" r="7.6"/><circle cx="645.36" cy="581.71" r="7.6"/><circle cx="665.49" cy="602.37" r="7.6"/><circle cx="685.63" cy="623.04" r="7.6"/><circle cx="705.76" cy="643.7" r="7.6"/><circle cx="725.89" cy="664.36" r="7.6"/><circle cx="746.02" cy="685.03" r="7.6"/><circle cx="766.15" cy="705.69" r="7.6"/><circle cx="786.28" cy="726.35" r="7.6"/><circle cx="806.41" cy="747.02" r="7.6"/><circle cx="826.55" cy="767.68" r="7.6"/><circle cx="846.68" cy="788.35" r="7.6"/><circle cx="866.81" cy="809.01" r="7.6"/><circle cx="886.94" cy="829.67" r="7.6"/><circle cx="907.07" cy="850.34" r="7.6"/><circle cx="927.2" cy="871" r="7.6"/></g>
<line x1="605.1" y1="540.38" x2="927.2" y2="871" stroke="#3f1b8f" stroke-width="2.8" />
</g>
<text x="605.1" y="906.5" font-size="30" text-anchor="middle" fill="#000" >0.0</text>
<text x="720.14" y="906.5" font-size="30" text-anchor="middle" fill="#000" >0.4</text>
<text x="835.17" y="906.5" font-size="30" text-anchor="middle" fill="#000" >0.8</text>
<text x="950.21" y="906.5" font-size="30" text-anchor="middle" fill="#000" >1.2</text>
<text x="591.5" y="881.3" font-size="30" text-anchor="end" fill="#000" >0</text>
<text x="591.5" y="757.7" font-size="30" text-anchor="end" fill="#000" >20</text>
<text x="591.5" y="634.11" font-size="30" text-anchor="end" fill="#000" >40</text>
<text x="591.5" y="510.51" font-size="30" text-anchor="end" fill="#000" >60</text>
<text x="737" y="956.4" font-size="32"><tspan font-style="italic">I</tspan> (mA)</text>
<text transform="translate(532.8,680) rotate(-90)" font-size="32" text-anchor="middle" fill="#000" ><tspan font-style="italic">V</tspan> (mV)</text>
<text x="511.1" y="517.2" font-size="45" text-anchor="start" fill="#000" >e</text>
<circle cx="796.4" cy="523.4" r="9" fill="none" stroke="#e4571b" stroke-width="2.5"/>
<text x="818.5" y="532.5" font-size="29.5" fill="#e4571b"><tspan font-style="italic">ΔT</tspan> = 8 K</text>
<circle cx="796.4" cy="565.1" r="9" fill="none" stroke="#2b8a3e" stroke-width="2.5"/>
<text x="816.5" y="575.8" font-size="29.5" fill="#2b8a3e"><tspan font-style="italic">ΔT</tspan> = 13 K</text>
<circle cx="796.4" cy="613.9" r="9" fill="none" stroke="#4aa1e6" stroke-width="2.5"/>
<text x="816.5" y="623.4" font-size="29.5" fill="#4aa1e6"><tspan font-style="italic">ΔT</tspan> = 18 K</text>
<circle cx="796.4" cy="660.8" r="9" fill="none" stroke="#3f1b8f" stroke-width="2.5"/>
<text x="816.5" y="671.1" font-size="29.5" fill="#3f1b8f"><tspan font-style="italic">ΔT</tspan> = 25 K</text>
</g>
<!-- panel_f -->
<g id="panel_f">
<clipPath id="clipF"><rect x="1119.9" y="488.1" width="374" height="383.2"/></clipPath>
<rect x="1119.2" y="488.1" width="374" height="382.5" fill="none" stroke="#1a1a1a" stroke-width="1.4"/>
<path d="M1237.18 870.6v-11M1237.18 488.1v11M1355.16 870.6v-11M1355.16 488.1v11M1473.14 870.6v-11M1473.14 488.1v11M1178.19 870.6v-7M1178.19 488.1v7M1296.17 870.6v-7M1296.17 488.1v7M1414.15 870.6v-7M1414.15 488.1v7M1119.2 778.43h11M1493.2 778.43h-11M1119.2 686.26h11M1493.2 686.26h-11M1119.2 594.09h11M1493.2 594.09h-11M1119.2 501.93h11M1493.2 501.93h-11M1119.2 824.52h7M1493.2 824.52h-7M1119.2 732.35h7M1493.2 732.35h-7M1119.2 640.18h7M1493.2 640.18h-7M1119.2 548.01h7M1493.2 548.01h-7" stroke="#1a1a1a" stroke-width="1.4" fill="none"/>
<g clip-path="url(#clipF)" fill="none">
<g stroke="#e4571b" stroke-width="2.7" fill="#fff"><circle cx="1119.2" cy="870.6" r="7.6"/><circle cx="1129.55" cy="857.62" r="7.6"/><circle cx="1139.9" cy="847.13" r="7.6"/><circle cx="1150.25" cy="839.14" r="7.6"/><circle cx="1160.6" cy="833.65" r="7.6"/><circle cx="1170.95" cy="830.66" r="7.6"/><circle cx="1181.3" cy="830.16" r="7.6"/><circle cx="1191.65" cy="832.16" r="7.6"/><circle cx="1202" cy="836.65" r="7.6"/><circle cx="1212.35" cy="843.65" r="7.6"/><circle cx="1222.7" cy="853.13" r="7.6"/><circle cx="1233.05" cy="865.12" r="7.6"/></g>
<path d="M1119.2 870.6 L1121.13 867.99 L1123.06 865.47 L1124.99 863.03 L1126.92 860.68 L1128.85 858.42 L1130.78 856.24 L1132.71 854.15 L1134.64 852.15 L1136.57 850.24 L1138.5 848.41 L1140.43 846.67 L1142.36 845.01 L1144.29 843.44 L1146.22 841.96 L1148.15 840.57 L1150.08 839.26 L1152 838.04 L1153.93 836.9 L1155.86 835.85 L1157.79 834.89 L1159.72 834.02 L1161.65 833.23 L1163.58 832.53 L1165.51 831.92 L1167.44 831.39 L1169.37 830.95 L1171.3 830.6 L1173.23 830.33 L1175.16 830.15 L1177.09 830.06 L1179.02 830.05 L1180.95 830.13 L1182.88 830.3 L1184.81 830.56 L1186.74 830.9 L1188.67 831.33 L1190.6 831.84 L1192.53 832.44 L1194.46 833.13 L1196.39 833.9 L1198.32 834.77 L1200.25 835.72 L1202.18 836.75 L1204.11 837.87 L1206.04 839.08 L1207.97 840.38 L1209.9 841.76 L1211.83 843.23 L1213.75 844.79 L1215.68 846.43 L1217.61 848.16 L1219.54 849.98 L1221.47 851.88 L1223.4 853.87 L1225.33 855.95 L1227.26 858.11 L1229.19 860.36 L1231.12 862.7 L1233.05 865.12" stroke="#e4571b" stroke-width="2.8" fill="none"/>
<g stroke="#2b8a3e" stroke-width="2.7" fill="#fff"><circle cx="1119.2" cy="870.6" r="7.6"/><circle cx="1129.41" cy="849.43" r="7.6"/><circle cx="1139.63" cy="830.6" r="7.6"/><circle cx="1149.84" cy="814.12" r="7.6"/><circle cx="1160.06" cy="799.98" r="7.6"/><circle cx="1170.27" cy="788.19" r="7.6"/><circle cx="1180.49" cy="778.75" r="7.6"/><circle cx="1190.7" cy="771.64" r="7.6"/><circle cx="1200.92" cy="766.89" r="7.6"/><circle cx="1211.13" cy="764.47" r="7.6"/><circle cx="1221.35" cy="764.41" r="7.6"/><circle cx="1231.56" cy="766.68" r="7.6"/><circle cx="1241.78" cy="771.3" r="7.6"/><circle cx="1251.99" cy="778.27" r="7.6"/><circle cx="1262.21" cy="787.58" r="7.6"/><circle cx="1272.42" cy="799.24" r="7.6"/><circle cx="1282.63" cy="813.24" r="7.6"/><circle cx="1292.85" cy="829.59" r="7.6"/><circle cx="1303.06" cy="848.28" r="7.6"/><circle cx="1313.28" cy="869.31" r="7.6"/></g>
<path d="M1119.2 870.6 L1122.49 863.53 L1125.78 856.7 L1129.07 850.11 L1132.36 843.76 L1135.65 837.66 L1138.94 831.8 L1142.23 826.19 L1145.52 820.82 L1148.81 815.69 L1152.09 810.8 L1155.38 806.16 L1158.67 801.76 L1161.96 797.61 L1165.25 793.7 L1168.54 790.03 L1171.83 786.6 L1175.12 783.42 L1178.41 780.48 L1181.7 777.78 L1184.99 775.33 L1188.28 773.12 L1191.57 771.15 L1194.86 769.42 L1198.15 767.94 L1201.44 766.71 L1204.73 765.71 L1208.02 764.96 L1211.31 764.45 L1214.59 764.19 L1217.88 764.17 L1221.17 764.39 L1224.46 764.85 L1227.75 765.56 L1231.04 766.51 L1234.33 767.7 L1237.62 769.14 L1240.91 770.82 L1244.2 772.75 L1247.49 774.91 L1250.78 777.32 L1254.07 779.98 L1257.36 782.87 L1260.65 786.01 L1263.94 789.39 L1267.23 793.02 L1270.52 796.89 L1273.81 801 L1277.09 805.36 L1280.38 809.95 L1283.67 814.8 L1286.96 819.88 L1290.25 825.21 L1293.54 830.78 L1296.83 836.59 L1300.12 842.65 L1303.41 848.95 L1306.7 855.5 L1309.99 862.28 L1313.28 869.31" stroke="#2b8a3e" stroke-width="2.8" fill="none"/>
<g stroke="#4aa1e6" stroke-width="2.7" fill="#fff"><circle cx="1119.2" cy="870.6" r="7.6"/><circle cx="1131.29" cy="835.6" r="7.6"/><circle cx="1143.39" cy="804.28" r="7.6"/><circle cx="1155.48" cy="776.65" r="7.6"/><circle cx="1167.57" cy="752.7" r="7.6"/><circle cx="1179.67" cy="732.43" r="7.6"/><circle cx="1191.76" cy="715.85" r="7.6"/><circle cx="1203.85" cy="702.96" r="7.6"/><circle cx="1215.94" cy="693.75" r="7.6"/><circle cx="1228.04" cy="688.22" r="7.6"/><circle cx="1240.13" cy="686.38" r="7.6"/><circle cx="1252.22" cy="688.22" r="7.6"/><circle cx="1264.32" cy="693.75" r="7.6"/><circle cx="1276.41" cy="702.96" r="7.6"/><circle cx="1288.5" cy="715.85" r="7.6"/><circle cx="1300.6" cy="732.43" r="7.6"/><circle cx="1312.69" cy="752.7" r="7.6"/><circle cx="1324.78" cy="776.65" r="7.6"/><circle cx="1336.88" cy="804.28" r="7.6"/><circle cx="1348.97" cy="835.6" r="7.6"/><circle cx="1361.06" cy="870.6" r="7.6"/></g>
<path d="M1119.2 870.6 L1123.3 858.32 L1127.4 846.47 L1131.5 835.04 L1135.6 824.03 L1139.7 813.44 L1143.8 803.28 L1147.9 793.55 L1151.99 784.23 L1156.09 775.34 L1160.19 766.87 L1164.29 758.83 L1168.39 751.21 L1172.49 744.01 L1176.59 737.24 L1180.69 730.89 L1184.79 724.96 L1188.89 719.45 L1192.99 714.37 L1197.09 709.72 L1201.19 705.48 L1205.29 701.67 L1209.39 698.29 L1213.48 695.32 L1217.58 692.78 L1221.68 690.66 L1225.78 688.97 L1229.88 687.7 L1233.98 686.85 L1238.08 686.43 L1242.18 686.43 L1246.28 686.85 L1250.38 687.7 L1254.48 688.97 L1258.58 690.66 L1262.68 692.78 L1266.78 695.32 L1270.88 698.29 L1274.98 701.67 L1279.07 705.48 L1283.17 709.72 L1287.27 714.37 L1291.37 719.45 L1295.47 724.96 L1299.57 730.89 L1303.67 737.24 L1307.77 744.01 L1311.87 751.21 L1315.97 758.83 L1320.07 766.87 L1324.17 775.34 L1328.27 784.23 L1332.37 793.55 L1336.47 803.28 L1340.56 813.44 L1344.66 824.03 L1348.76 835.04 L1352.86 846.47 L1356.96 858.32 L1361.06 870.6" stroke="#4aa1e6" stroke-width="2.8" fill="none"/>
<g stroke="#3f1b8f" stroke-width="2.7" fill="#fff"><circle cx="1119.2" cy="870.6" r="7.6"/><circle cx="1139.85" cy="789.7" r="7.6"/><circle cx="1160.49" cy="719.59" r="7.6"/><circle cx="1181.14" cy="660.26" r="7.6"/><circle cx="1201.79" cy="611.72" r="7.6"/><circle cx="1222.43" cy="573.97" r="7.6"/><circle cx="1243.08" cy="547" r="7.6"/><circle cx="1263.73" cy="530.82" r="7.6"/><circle cx="1284.37" cy="525.43" r="7.6"/><circle cx="1305.02" cy="530.82" r="7.6"/><circle cx="1325.67" cy="547" r="7.6"/><circle cx="1346.31" cy="573.97" r="7.6"/><circle cx="1366.96" cy="611.72" r="7.6"/><circle cx="1387.61" cy="660.26" r="7.6"/><circle cx="1408.25" cy="719.59" r="7.6"/><circle cx="1428.9" cy="789.7" r="7.6"/><circle cx="1449.55" cy="870.6" r="7.6"/></g>
<path d="M1119.2 870.6 L1124.8 847.6 L1130.4 825.38 L1136 803.97 L1141.6 783.34 L1147.2 763.51 L1152.79 744.47 L1158.39 726.22 L1163.99 708.77 L1169.59 692.11 L1175.19 676.25 L1180.79 661.18 L1186.39 646.9 L1191.99 633.41 L1197.59 620.72 L1203.19 608.82 L1208.79 597.72 L1214.38 587.4 L1219.98 577.88 L1225.58 569.16 L1231.18 561.22 L1236.78 554.09 L1242.38 547.74 L1247.98 542.19 L1253.58 537.43 L1259.18 533.46 L1264.78 530.29 L1270.38 527.91 L1275.97 526.32 L1281.57 525.53 L1287.17 525.53 L1292.77 526.32 L1298.37 527.91 L1303.97 530.29 L1309.57 533.46 L1315.17 537.43 L1320.77 542.19 L1326.37 547.74 L1331.97 554.09 L1337.56 561.22 L1343.16 569.16 L1348.76 577.88 L1354.36 587.4 L1359.96 597.72 L1365.56 608.82 L1371.16 620.72 L1376.76 633.41 L1382.36 646.9 L1387.96 661.18 L1393.56 676.25 L1399.16 692.11 L1404.75 708.77 L1410.35 726.22 L1415.95 744.47 L1421.55 763.51 L1427.15 783.34 L1432.75 803.97 L1438.35 825.38 L1443.95 847.6 L1449.55 870.6" stroke="#3f1b8f" stroke-width="2.8" fill="none"/>
</g>
<text x="1119.2" y="906.5" font-size="30" text-anchor="middle" fill="#000" >0.0</text>
<text x="1237.18" y="906.5" font-size="30" text-anchor="middle" fill="#000" >0.4</text>
<text x="1355.16" y="906.5" font-size="30" text-anchor="middle" fill="#000" >0.8</text>
<text x="1473.14" y="906.5" font-size="30" text-anchor="middle" fill="#000" >1.2</text>
<text x="1105.5" y="880.9" font-size="30" text-anchor="end" fill="#000" >0</text>
<text x="1105.5" y="788.73" font-size="30" text-anchor="end" fill="#000" >4</text>
<text x="1105.5" y="696.56" font-size="30" text-anchor="end" fill="#000" >8</text>
<text x="1105.5" y="604.39" font-size="30" text-anchor="end" fill="#000" >12</text>
<text x="1105.5" y="512.23" font-size="30" text-anchor="end" fill="#000" >16</text>
<text x="1255" y="956.4" font-size="32"><tspan font-style="italic">I</tspan> (mA)</text>
<text transform="translate(1056,678.5) rotate(-90)" font-size="32" text-anchor="middle" fill="#000" ><tspan font-style="italic">P</tspan> (µW)</text>
<text x="1027.5" y="528" font-size="45" text-anchor="start" fill="#000" >f</text>
</g>
<!-- panel_g -->
<g id="panel_g">
<circle cx="197.53" cy="1352.79" r="7.6" fill="none" stroke="#e4571b" stroke-width="2.7"/>
<circle cx="256.8" cy="1292.45" r="7.6" fill="none" stroke="#2b8a3e" stroke-width="2.7"/>
<circle cx="316.08" cy="1225.56" r="7.6" fill="none" stroke="#4aa1e6" stroke-width="2.7"/>
<circle cx="399.05" cy="1080.65" r="7.6" fill="none" stroke="#3f1b8f" stroke-width="2.7"/>
<path d="M197.53 1352.79C207.41 1342.73 237.05 1313.65 256.8 1292.45C276.56 1271.24 292.37 1260.86 316.08 1225.56C339.78 1190.26 385.23 1104.8 399.05 1080.65" fill="none" stroke="#ee6f7d" stroke-width="4.8" stroke-dasharray="15.8 5.6" stroke-dashoffset="-3"/>
<rect x="102.7" y="1011.1" width="374" height="382.4" fill="none" stroke="#1a1a1a" stroke-width="1.4"/>
<path d="M221.24 1393.5v-11M221.24 1011.1v11M339.78 1393.5v-11M339.78 1011.1v11M458.33 1393.5v-11M458.33 1011.1v11M161.97 1393.5v-7M161.97 1011.1v7M280.51 1393.5v-7M280.51 1011.1v7M399.05 1393.5v-7M399.05 1011.1v7M102.7 1386.23h11M476.7 1386.23h-11M102.7 1265.06h11M476.7 1265.06h-11M102.7 1143.9h11M476.7 1143.9h-11M102.7 1022.73h11M476.7 1022.73h-11M102.7 1325.65h7M476.7 1325.65h-7M102.7 1204.48h7M476.7 1204.48h-7M102.7 1083.31h7M476.7 1083.31h-7" stroke="#1a1a1a" stroke-width="1.4" fill="none"/>
<text x="102.7" y="1429.3" font-size="30" text-anchor="middle" fill="#000" >0</text>
<text x="221.24" y="1429.3" font-size="30" text-anchor="middle" fill="#000" >10</text>
<text x="339.78" y="1429.3" font-size="30" text-anchor="middle" fill="#000" >20</text>
<text x="458.33" y="1429.3" font-size="30" text-anchor="middle" fill="#000" >30</text>
<text x="88.7" y="1396.53" font-size="30" text-anchor="end" fill="#000" >0</text>
<text x="88.7" y="1275.36" font-size="30" text-anchor="end" fill="#000" >50</text>
<text x="88.7" y="1154.2" font-size="30" text-anchor="end" fill="#000" >100</text>
<text x="88.7" y="1033.03" font-size="30" text-anchor="end" fill="#000" >150</text>
<text x="235.5" y="1469.6" font-size="32"><tspan font-style="italic">ΔT</tspan> (K)</text>
<text transform="translate(33,1200.5) rotate(-90)" font-size="32" text-anchor="middle" fill="#000" ><tspan font-style="italic">ω</tspan> (µW cm<tspan font-size="21" dy="-11" dx="2">−2</tspan><tspan dy="11">)</tspan></text>
<text x="0.3" y="1035.5" font-size="45" text-anchor="start" fill="#000" >g</text>
</g>
<!-- panel_h -->
<g id="panel_h">
<defs>
<clipPath id="clipH"><rect x="607.6" y="1020.5" width="368.0" height="374.5"/></clipPath>
<linearGradient id="hSteelT" x1="0" x2="1"><stop offset="0" stop-color="#55554f"/><stop offset="0.25" stop-color="#6e6e69"/><stop offset="0.45" stop-color="#96968f"/><stop offset="0.50" stop-color="#cfcfca"/><stop offset="0.53" stop-color="#a8a8a3"/><stop offset="0.7" stop-color="#8c8c88"/><stop offset="1" stop-color="#6b6b68"/></linearGradient>
<linearGradient id="hSteelB" x1="0" x2="1"><stop offset="0" stop-color="#8d8d8a"/><stop offset="0.3" stop-color="#9b9b98"/><stop offset="0.42" stop-color="#c8c8c4"/><stop offset="0.48" stop-color="#eeeeea"/><stop offset="0.62" stop-color="#8a8a87"/><stop offset="1" stop-color="#5e5e5b"/></linearGradient>
<pattern id="hGrid" width="6" height="6" patternUnits="userSpaceOnUse" patternTransform="translate(623 1053.5) rotate(-1.6)"><rect width="6" height="6" fill="#747676"/><path d="M0 0.4H6M0.4 0V6" stroke="#fff" stroke-opacity="0.7" stroke-width="0.7"/></pattern>
<pattern id="hGrid2" width="12" height="12" patternUnits="userSpaceOnUse" patternTransform="translate(623 1053.5) rotate(-1.6)"><rect width="12" height="12" fill="#727474"/><path d="M0 0.4H12M0.4 0V12" stroke="#fff" stroke-opacity="0.72" stroke-width="0.75"/></pattern>
<linearGradient id="hTeal" x1="0" x2="1"><stop offset="0" stop-color="#3dd0e0"/><stop offset="0.08" stop-color="#2cc4d6"/><stop offset="0.88" stop-color="#27bccf"/><stop offset="1" stop-color="#1b9db0"/></linearGradient>
<linearGradient id="hLcd" x1="0" y1="0" x2="0" y2="1"><stop offset="0" stop-color="#9aa19d"/><stop offset="0.4" stop-color="#adb3af"/><stop offset="1" stop-color="#a2a8a4"/></linearGradient>
<linearGradient id="hArm" x1="0" x2="1"><stop offset="0" stop-color="#dc9c90"/><stop offset="0.08" stop-color="#ecab9e"/><stop offset="0.45" stop-color="#f3bbac"/><stop offset="0.8" stop-color="#f1b9a9"/><stop offset="0.94" stop-color="#efc0b0"/><stop offset="1" stop-color="#cf9888"/></linearGradient><linearGradient id="hArmV" x1="0" y1="0" x2="0" y2="1"><stop offset="0" stop-color="#b07868" stop-opacity="0.22"/><stop offset="0.45" stop-color="#b07868" stop-opacity="0.06"/><stop offset="0.7" stop-color="#b07868" stop-opacity="0"/></linearGradient>
<radialGradient id="hDial" cx="0.35" cy="0.45" r="0.7"><stop offset="0" stop-color="#4a4a4c"/><stop offset="0.6" stop-color="#2e2e30"/><stop offset="1" stop-color="#202022"/></radialGradient>
<radialGradient id="hBtn" cx="0.4" cy="0.4" r="0.7"><stop offset="0" stop-color="#a4a6aa"/><stop offset="1" stop-color="#7c7e82"/></radialGradient>
</defs>
<g clip-path="url(#clipH)">
<rect x="607.6" y="1020.5" width="368.0" height="374.5" fill="#7d7d7a"/>
<rect x="607.6" y="1020.5" width="368.0" height="30" fill="url(#hSteelT)"/>
<rect x="607.6" y="1360" width="368.0" height="36" fill="url(#hSteelB)"/>
<linearGradient id="hLeft" x1="0" y1="0" x2="0" y2="1"><stop offset="0" stop-color="#4b4b46"/><stop offset="0.6" stop-color="#5e5e59"/><stop offset="1" stop-color="#8c8c88"/></linearGradient><rect x="607.6" y="1020.5" width="6" height="374.5" fill="url(#hLeft)"/>
<rect x="866" y="1020.5" width="110" height="14" fill="#4a463f"/>
<rect x="958" y="1020.5" width="18" height="374.5" fill="#3c3a35"/>
<rect x="911" y="1364" width="65" height="18.5" fill="#2f312d"/><rect x="911" y="1382" width="65" height="14" fill="#57554e"/>
<path d="M619 1041.7 L955 1027.4 Q961 1027.2 961.4 1033 L974 1360 Q974.2 1367 967 1367.1 L619 1370.4 Q611.8 1370.5 611.8 1363.5 L611.8 1049 Q611.8 1042 619 1041.7Z" fill="#6d6f6f"/>
<polygon points="623,1053.5 951.6,1043.5 961.8,1352.6 623,1357" fill="url(#hGrid)"/>
<polygon points="647,1078.8 927.7,1074.7 935,1321 647,1324.5" fill="url(#hGrid2)"/>
<polygon points="623,1053.5 951.6,1043.5 961.8,1352.6 623,1357" fill="none" stroke="#f2f2f2" stroke-width="1.2"/>
<polygon points="647,1078.8 927.7,1074.7 935,1321 647,1324.5" fill="none" stroke="#f4f4f4" stroke-width="1.7"/>
<path d="M905 1110 Q960 1112 962 1170 M925 1330 Q968 1320 968 1270" fill="none" stroke="#5e5e5e" stroke-width="0.8"/>
<text transform="translate(619,1053) rotate(88)" font-size="5.5" fill="#e6e6e6" text-anchor="middle">0</text>
<text transform="translate(618.5,1126) rotate(88)" font-size="5.5" fill="#e6e6e6" text-anchor="middle">5</text>
<text transform="translate(618.5,1199) rotate(88)" font-size="5.5" fill="#e6e6e6" text-anchor="middle">10</text>
<text transform="translate(618,1279) rotate(88)" font-size="5.5" fill="#e6e6e6" text-anchor="middle">15</text>
<text transform="translate(617,1351) rotate(88)" font-size="5.5" fill="#e6e6e6" text-anchor="middle">20</text>
<text transform="translate(657,1044) rotate(88)" font-size="5.5" fill="#e6e6e6" text-anchor="middle">25</text>
<text transform="translate(715,1041) rotate(88)" font-size="5.5" fill="#e6e6e6" text-anchor="middle">20</text>
<text transform="translate(773,1039) rotate(88)" font-size="5.5" fill="#e6e6e6" text-anchor="middle">15</text>
<text transform="translate(890,1036) rotate(88)" font-size="5.5" fill="#e6e6e6" text-anchor="middle">5</text>
<text transform="translate(954,1033) rotate(88)" font-size="5.5" fill="#e6e6e6" text-anchor="middle">0</text>
<text transform="translate(960,1105) rotate(88)" font-size="5.5" fill="#e6e6e6" text-anchor="middle">5</text>
<text transform="translate(963,1180) rotate(88)" font-size="5.5" fill="#e6e6e6" text-anchor="middle">10</text>
<text transform="translate(966,1262) rotate(88)" font-size="5.5" fill="#e6e6e6" text-anchor="middle">15</text>
<text transform="translate(969,1348) rotate(88)" font-size="5.5" fill="#e6e6e6" text-anchor="middle">20</text>
<text transform="translate(776,1361) rotate(88)" font-size="5.5" fill="#e6e6e6" text-anchor="middle">15</text>
<path d="M757 1220 L784 1218 L784 1228 L757 1229.5Z" fill="#5b605e"/>
<path d="M768 1279 L784 1278 L784 1291 L770 1291Z" fill="#5b605e"/>
<path d="M637 1052 Q690 1040 750 1049 Q757 1052 757.5 1062 L757 1080 L632 1080 L632 1062 Q632 1054 637 1052Z" fill="#2a2a2a"/>
<path d="M642 1051.5 L746 1051.5 Q757 1051.5 757 1062 L758.6 1376 Q758.6 1388.5 746 1388.5 L645 1388.5 Q632.8 1388.5 632.7 1376 L630.7 1062 Q630.7 1051.5 642 1051.5Z" fill="url(#hTeal)"/>
<path d="M634 1066 Q634 1054.5 645 1054.5 L742 1054.5" fill="none" stroke="#6fd8e2" stroke-width="2.2" stroke-opacity="0.8"/>
<path d="M645 1066 L736 1066 Q741 1066 741 1071 L744.2 1362 Q744.2 1372.3 734 1372.3 L651 1372.3 Q640.8 1372.3 640.8 1362 L639.9 1071 Q639.9 1066 645 1066Z" fill="#2b2b2d"/>
<path d="M645 1066 L736 1066 Q741 1066 741 1071 L741.9 1158.5 L640.2 1158.5 L639.9 1071 Q639.9 1066 645 1066Z" fill="#37393a"/>
<rect x="640.5" y="1158.5" width="102" height="1.2" fill="#1a1a1b"/>
<text x="648" y="1079.8" font-size="5.6" fill="#c9c9c9" textLength="21">SDA2010</text>
<text x="676.5" y="1078.6" font-size="3.9" font-weight="bold" fill="#c4c4c4" textLength="54">TRMS DIGITAL MULTIMETER</text>
<rect x="646.2" y="1082.6" width="90.6" height="72" fill="url(#hLcd)"/>
<rect x="646.2" y="1082.6" width="90.6" height="72" fill="none" stroke="#8b918d" stroke-width="1"/>
<text x="699" y="1087.6" font-size="5" fill="#5f6561" font-style="italic">m V</text>
<text x="648" y="1089" font-size="4.2" fill="#7e8480">AUTO</text>
<rect x="727.5" y="1089.5" width="6.5" height="4" fill="none" stroke="#4a4f4c" stroke-width="0.8"/>
<text x="648" y="1150.5" font-size="3.6" fill="#5f6561">–3000</text>
<path d="M650 1151.5 H735" stroke="#7b817d" stroke-width="0.5" stroke-dasharray="0.8 13"/>
<path d="M648.5 1109.5h5" stroke="#5a5f5c" stroke-width="0.9"/>
<path d="M1 0L13.4 0M14.4 1L14.4 17.9M14.4 19.9L14.4 36.8M1 37.8L13.4 37.8M0 19.9L0 36.8M0 1L0 17.9" transform="translate(659.2,1100.4) skewX(-3.1)" stroke="#2b2e2c" stroke-width="3.8" stroke-linecap="butt" fill="none"/>
<path d="M0 1L0 17.9M1 18.9L14 18.9M15 1L15 17.9M15 19.9L15 36.8" transform="translate(680,1100.4) skewX(-3.1)" stroke="#2b2e2c" stroke-width="3.8" stroke-linecap="butt" fill="none"/>
<path d="M1 0L14.4 0M15.4 1L15.4 17.9M15.4 19.9L15.4 36.8M1 37.8L14.4 37.8M0 1L0 17.9M1 18.9L14.4 18.9" transform="translate(699.6,1100.4) skewX(-3.1)" stroke="#2b2e2c" stroke-width="3.8" stroke-linecap="butt" fill="none"/>
<rect x="714.6" y="1134.4" width="2.4" height="3.2" fill="#2d302e"/>
<path d="M1 0L11 0M12 1L12 17.9M12 19.9L12 36.8" transform="translate(722.6,1100.4) skewX(-3.1)" stroke="#2b2e2c" stroke-width="3.8" stroke-linecap="butt" fill="none"/>
<circle cx="666.5" cy="1193.7" r="21" fill="url(#hBtn)"/>
<path d="M651.5 1178.7 L681.5 1208.7 M681.5 1178.7 L651.5 1208.7" stroke="#2b2b2d" stroke-width="3.6"/>
<circle cx="666.5" cy="1193.7" r="21.6" fill="none" stroke="#232325" stroke-width="1.6"/>
<text x="666.5" y="1179.5" font-size="3.4" fill="#e8e8ea" text-anchor="middle">Hz</text><text x="666.5" y="1183" font-size="3.4" fill="#e8e8ea" text-anchor="middle">Duty</text>
<text x="652.5" y="1193.5" font-size="3.4" fill="#e8e8ea" text-anchor="middle">Hold</text><text x="652.5" y="1197" font-size="3.4" fill="#e8e8ea" text-anchor="middle">Light</text>
<text x="680.5" y="1193.5" font-size="3.4" fill="#e8e8ea" text-anchor="middle">Rel</text><text x="680.5" y="1197" font-size="3.4" fill="#e8e8ea" text-anchor="middle">USB</text>
<text x="666.5" y="1208.5" font-size="3.4" fill="#e8e8ea" text-anchor="middle">Max</text><text x="666.5" y="1212" font-size="3.4" fill="#e8e8ea" text-anchor="middle">Min</text>
<path d="M691 1183 a11.5 12.5 0 0 1 23 -3 a12 12.5 0 0 1 24 -1 a12 13 0 0 1 -24 5 a11.5 12.5 0 0 1 -23 -1Z" fill="#1f1f21"/>
<ellipse cx="701.2" cy="1182.4" rx="6.4" ry="8.2" fill="#2f6fd6" transform="rotate(-28 701.2 1182.4)"/>
<ellipse cx="726.4" cy="1180.8" rx="6.8" ry="8.4" fill="#f0c21c" transform="rotate(-28 726.4 1180.8)"/>
<ellipse cx="699.8" cy="1180.4" rx="3.4" ry="4.6" fill="#5a93ec" fill-opacity="0.6" transform="rotate(-28 699.8 1180.4)"/>
<ellipse cx="725" cy="1178.8" rx="3.6" ry="4.8" fill="#f8dc62" fill-opacity="0.7" transform="rotate(-28 725 1178.8)"/>
<text x="691.5" y="1200.6" font-size="3.9" font-weight="bold" fill="#e2e2e2" textLength="46">Scientific Devices Australia</text>
<text x="693.5" y="1208" font-size="5.4" fill="#d6d6d6" textLength="40" font-style="italic">40th Anniversary</text>
<text x="677.5" y="1223.5" font-size="4.6" font-weight="bold" fill="#eee">TEMP</text>
<text x="715.5" y="1222" font-size="4.6" font-weight="bold" fill="#eee">OFF</text>
<text x="694.5" y="1219.5" font-size="4.4" font-weight="bold" fill="#f08a28">V=</text><text x="706.5" y="1219.5" font-size="4.4" font-weight="bold" fill="#f08a28">V~</text>
<circle cx="689" cy="1226.5" r="0.95" fill="#eee"/>
<circle cx="697.7" cy="1222.6" r="0.95" fill="#f08a28"/>
<circle cx="708" cy="1222.4" r="0.95" fill="#f08a28"/>
<circle cx="717.6" cy="1224.5" r="0.95" fill="#eee"/>
<circle cx="680.8" cy="1233.4" r="0.95" fill="#f08a28"/>
<circle cx="675" cy="1242.6" r="0.95" fill="#eee"/>
<circle cx="671" cy="1254.6" r="0.95" fill="#f08a28"/>
<circle cx="670.2" cy="1267" r="0.95" fill="#eee"/>
<circle cx="671.4" cy="1279.6" r="0.95" fill="#f08a28"/>
<circle cx="675.6" cy="1291" r="0.95" fill="#f08a28"/>
<circle cx="682" cy="1300" r="0.95" fill="#f08a28"/>
<circle cx="691" cy="1306" r="0.95" fill="#eee"/>
<text x="673.5" y="1234" font-size="5" fill="#f08a28">Ω</text>
<text x="649.5" y="1269" font-size="4" font-weight="bold" fill="#eee">Hz / Duty</text>
<text x="659.5" y="1282" font-size="4" font-weight="bold" fill="#f08a28">µA≂</text><text x="663" y="1294" font-size="4" font-weight="bold" fill="#f08a28">mA≂</text>
<text x="660" y="1256.5" font-size="4" fill="#f08a28">◂▸</text>
<ellipse cx="705" cy="1266" rx="31.4" ry="40.6" fill="#19191a"/>
<ellipse cx="705" cy="1266" rx="30.4" ry="39.6" fill="url(#hDial)"/>
<ellipse cx="705" cy="1266" rx="29" ry="38.2" fill="none" stroke="#57575a" stroke-width="0.7"/>
<path d="M698.24 1229.76 L712.43 1304.08" stroke="#1b1b1c" stroke-width="12.6" stroke-linecap="round"/>
<path d="M698.24 1229.76 L712.43 1304.08" stroke="#323234" stroke-width="10.6" stroke-linecap="round"/>
<path d="M700.04 1231.76 L714.23 1302.08" stroke="#19191a" stroke-width="1.3"/>
<circle cx="697.84" cy="1236.24" r="0.9" fill="#bbb"/>
<text x="726" y="1311.5" font-size="9" font-weight="bold" fill="#e8e8e8">C€</text>
<rect x="646.9" y="1299.4" width="21" height="22" fill="#2b6fc9"/><path d="M650 1311 L660 1302 L667 1311Z M650 1319 L657 1313 L662 1319Z" fill="#e9f0fa"/>
<text x="655" y="1355" font-size="3.8" font-weight="bold" fill="#e6e6e6">FUSED</text><text x="655" y="1360" font-size="3.8" font-weight="bold" fill="#e6e6e6">10A/1C MAX.</text><text x="655" y="1364.6" font-size="3.8" font-weight="bold" fill="#e6e6e6">1000C MAX.</text><text x="655" y="1369" font-size="3.8" font-weight="bold" fill="#e6e6e6">EACH 15min</text>
<path d="M717 1344 l4 -6 l4 6z" fill="none" stroke="#f08a28" stroke-width="0.8"/>
<circle cx="651" cy="1349" r="6.2" fill="#141414"/><circle cx="651" cy="1349" r="3" fill="#3a1f16"/>
<path d="M629.32 1339.22 L675.27 1338.54 L707.7 1345.3 L711.76 1357.46 L699.59 1372.32 L688.78 1365.57 L672.57 1350.7 L649.59 1345.3 L629.32 1342.59Z" fill="#1b1b1c"/>
<ellipse cx="698.24" cy="1359.49" rx="10" ry="11.5" fill="#2a2a2c"/>
<path d="M691.49 1363.54 L705.68 1356.11" stroke="#111" stroke-width="1"/>
<path d="M661.76 1337.86 L662.43 1348 M665.81 1338.27 L666.49 1348.68 M669.86 1338.54 L670.54 1349.08" stroke="#3a3a3c" stroke-width="1.2"/>
<path d="M727.3 1344.62 L738.11 1342.59 L740.14 1350.7 L738.11 1370.97 L731.35 1373.68 L723.92 1369.62 L722.57 1357.46Z" fill="#d63a52"/>
<ellipse cx="730" cy="1364.22" rx="7.6" ry="9.6" fill="#e2506a"/>
<path d="M726.62 1350.7 L691.49 1387.19" stroke="#d63a52" stroke-width="9" stroke-linecap="round"/>
<path d="M694.19 1379.08 L699.59 1385.84 M698.24 1376.11 L703.65 1382.59 M691.49 1382.05 L696.62 1388.54" stroke="#b82a44" stroke-width="1.2"/>
<path d="M629.32 1338.54C634.28 1338.54 647.34 1338.77 659.05 1338.54C670.77 1338.32 687.21 1338.09 699.59 1337.19C711.98 1336.29 723.24 1335.16 733.38 1333.14C743.51 1331.11 754.1 1328.41 760.41 1325.03C766.71 1321.65 769.08 1316.69 771.22 1312.86C773.36 1309.04 773.13 1304.64 773.24 1302.05C773.36 1299.46 772.12 1298.11 771.89 1297.32" fill="none" stroke="#161617" stroke-width="5.0" stroke-linecap="round"/>
<path d="M629.59 1360.16C629.44 1361.96 628.02 1367.37 628.65 1370.97C629.28 1374.58 630.56 1378.86 633.38 1381.78C636.19 1384.71 640.14 1386.74 645.54 1388.54C650.95 1390.34 659.95 1391.92 665.81 1392.59C671.67 1393.27 676.4 1393.5 680.68 1392.59C684.95 1391.69 689.68 1388.09 691.49 1387.19" fill="none" stroke="#d92b52" stroke-width="5.0" stroke-linecap="round"/>
<path d="M627.3 1284.49C630.34 1285.61 639.12 1288.54 645.54 1291.24C651.96 1293.95 659.05 1297.55 665.81 1300.7C672.57 1303.86 679.32 1307.68 686.08 1310.16C692.84 1312.64 699.59 1314.55 706.35 1315.57C713.11 1316.58 719.86 1317.37 726.62 1316.24C733.38 1315.12 741.26 1312.3 746.89 1308.81C752.52 1305.32 757.09 1299.8 760.41 1295.3C763.72 1290.79 765.86 1285.39 766.76 1281.78C767.66 1278.18 766.53 1275.55 765.81 1273.68C765.09 1271.81 762.21 1270.34 762.43 1270.57C762.66 1270.79 765.88 1272.71 767.16 1275.03C768.45 1277.35 769.46 1281.11 770.14 1284.49C770.81 1287.86 771.22 1291.92 771.22 1295.3C771.22 1298.68 771.26 1301.38 770.14 1304.76C769.01 1308.14 768.33 1312.41 764.46 1315.57C760.59 1318.72 754.32 1321.31 746.89 1323.68C739.46 1326.04 730 1328.29 719.86 1329.76C709.73 1331.22 697.34 1331.9 686.08 1332.46C674.82 1333.02 661.31 1333.36 652.3 1333.14C643.29 1332.91 636.76 1332.46 632.03 1331.11C627.3 1329.76 625.72 1327.39 623.92 1325.03C622.12 1322.66 621.33 1319.4 621.22 1316.92C621.1 1314.44 622.12 1312.08 623.24 1310.16C624.37 1308.25 627.18 1306.22 627.97 1305.43" fill="none" stroke="#d92b52" stroke-width="5.3" stroke-linecap="round"/>
<path d="M607.7 1326.38C614.01 1326.72 632.48 1328.41 645.54 1328.41C658.6 1328.41 673.69 1327.62 686.08 1326.38C698.47 1325.14 709.73 1323.23 719.86 1320.97C730 1318.72 740.14 1316.02 746.89 1312.86C753.65 1309.71 757.36 1305.88 760.41 1302.05C763.45 1298.23 764.57 1293.5 765.14 1289.89C765.7 1286.29 764.01 1282.01 763.78 1280.43" fill="none" stroke="#161617" stroke-width="5.6" stroke-linecap="round"/>
<path d="M627.97 1302.73C630.9 1303.29 639.23 1304.64 645.54 1306.11C651.85 1307.57 659.05 1309.71 665.81 1311.51C672.57 1313.32 678.2 1315.45 686.08 1316.92C693.96 1318.38 706.35 1319.85 713.11 1320.3C719.86 1320.75 724.37 1319.73 726.62 1319.62" fill="none" stroke="#161617" stroke-width="5.2" stroke-linecap="round"/>
<path d="M627.3 1284.49C630.34 1285.61 639.12 1288.54 645.54 1291.24C651.96 1293.95 659.05 1297.55 665.81 1300.7C672.57 1303.86 679.32 1307.68 686.08 1310.16C692.84 1312.64 699.59 1314.55 706.35 1315.57C713.11 1316.58 719.86 1317.37 726.62 1316.24C733.38 1315.12 743.51 1310.05 746.89 1308.81" fill="none" stroke="#d92b52" stroke-width="5.3" stroke-linecap="round"/>
<path d="M795 1020.5C794.92 1033.75 795.5 1075.75 794.5 1100C793.5 1124.25 790.63 1146.33 789 1166C787.37 1185.67 786.2 1197 784.7 1218C783.2 1239 780.45 1270.67 780 1292C779.55 1313.33 780.92 1328.75 782 1346C783.08 1363.25 785.75 1387.25 786.5 1395.5 L911.9 1395.5C912.08 1385.25 912.88 1351.58 913 1334C913.12 1316.42 913.02 1304 912.6 1290C912.18 1276 912.6 1266.67 910.5 1250C908.4 1233.33 903.95 1209.73 900 1190C896.05 1170.27 891.48 1150.33 886.8 1131.6C882.12 1112.87 875.52 1096.12 871.9 1077.6C868.28 1059.08 866.23 1030.02 865.1 1020.5Z" fill="url(#hArm)"/>
<path d="M795 1020.5C794.92 1033.75 795.5 1075.75 794.5 1100C793.5 1124.25 790.63 1146.33 789 1166C787.37 1185.67 786.2 1197 784.7 1218C783.2 1239 780.45 1270.67 780 1292C779.55 1313.33 780.92 1328.75 782 1346C783.08 1363.25 785.75 1387.25 786.5 1395.5 L911.9 1395.5C912.08 1385.25 912.88 1351.58 913 1334C913.12 1316.42 913.02 1304 912.6 1290C912.18 1276 912.6 1266.67 910.5 1250C908.4 1233.33 903.95 1209.73 900 1190C896.05 1170.27 891.48 1150.33 886.8 1131.6C882.12 1112.87 875.52 1096.12 871.9 1077.6C868.28 1059.08 866.23 1030.02 865.1 1020.5Z" fill="url(#hArmV)"/>
<path d="M911.89 1298.65 L927.3 1297.03 Q931.89 1300.54 931.35 1307.3 L927.3 1312.16 L911.89 1310.54Z" fill="#19191a"/>
<path d="M931.35 1305.14 L948.92 1308.38" stroke="#b9a58a" stroke-width="2.2" stroke-linecap="round"/><circle cx="947.03" cy="1308.11" r="1.7" fill="#d64a3a"/>
<polygon points="886.76,1125.68 899.46,1124.59 917.3,1247.3 907.03,1250" fill="#c4581f" fill-opacity="0.88"/>
<polygon points="841.62,1132.97 888.11,1126.22 907.03,1250 856.49,1256.49" fill="#c54a1a"/>
<path d="M847.57 1137.03 L881.35 1132.16 L882.7 1142.43 M849.73 1139.73 L864.32 1247.84 M861.08 1251.89 L898.92 1245.14 L896.76 1237.03" fill="none" stroke="#e09a6c" stroke-width="5" stroke-linejoin="miter"/>
<path d="M849.73 1135.16 L874.59 1131.92" stroke="#e6e0d8" stroke-width="4.6" stroke-linecap="round"/>
<path d="M852.93 1134.76 L871.39 1132.32" stroke="#4f4f4f" stroke-width="4.2"/>
<path d="M850.96 1145.38 L875.82 1142.14" stroke="#e6e0d8" stroke-width="4.6" stroke-linecap="round"/>
<path d="M854.16 1144.98 L872.62 1142.54" stroke="#a9a9a7" stroke-width="4.2"/>
<path d="M852.19 1155.6 L877.05 1152.36" stroke="#e6e0d8" stroke-width="4.6" stroke-linecap="round"/>
<path d="M855.39 1155.2 L873.85 1152.76" stroke="#a9a9a7" stroke-width="4.2"/>
<path d="M853.42 1165.83 L878.28 1162.58" stroke="#e6e0d8" stroke-width="4.6" stroke-linecap="round"/>
<path d="M856.62 1165.43 L875.08 1162.98" stroke="#4f4f4f" stroke-width="4.2"/>
<path d="M854.64 1176.05 L879.51 1172.8" stroke="#e6e0d8" stroke-width="4.6" stroke-linecap="round"/>
<path d="M857.84 1175.65 L876.31 1173.2" stroke="#a9a9a7" stroke-width="4.2"/>
<path d="M855.87 1186.27 L880.74 1183.02" stroke="#e6e0d8" stroke-width="4.6" stroke-linecap="round"/>
<path d="M859.07 1185.87 L877.54 1183.42" stroke="#4f4f4f" stroke-width="4.2"/>
<path d="M857.1 1196.49 L881.97 1193.25" stroke="#e6e0d8" stroke-width="4.6" stroke-linecap="round"/>
<path d="M860.3 1196.09 L878.77 1193.65" stroke="#a9a9a7" stroke-width="4.2"/>
<path d="M858.33 1206.71 L883.19 1203.47" stroke="#e6e0d8" stroke-width="4.6" stroke-linecap="round"/>
<path d="M861.53 1206.31 L879.99 1203.87" stroke="#a9a9a7" stroke-width="4.2"/>
<path d="M859.56 1216.93 L884.42 1213.69" stroke="#e6e0d8" stroke-width="4.6" stroke-linecap="round"/>
<path d="M862.76 1216.53 L881.22 1214.09" stroke="#4f4f4f" stroke-width="4.2"/>
<path d="M860.79 1227.15 L885.65 1223.91" stroke="#e6e0d8" stroke-width="4.6" stroke-linecap="round"/>
<path d="M863.99 1226.75 L882.45 1224.31" stroke="#a9a9a7" stroke-width="4.2"/>
<path d="M862.01 1237.37 L886.88 1234.13" stroke="#e6e0d8" stroke-width="4.6" stroke-linecap="round"/>
<path d="M865.21 1236.97 L883.68 1234.53" stroke="#4f4f4f" stroke-width="4.2"/>
<path d="M863.24 1247.59 L888.11 1244.35" stroke="#e6e0d8" stroke-width="4.6" stroke-linecap="round"/>
<path d="M866.44 1247.19 L884.91 1244.75" stroke="#a9a9a7" stroke-width="4.2"/>
<path d="M914.59 1231.08 L936.22 1233.24" stroke="#c9b090" stroke-width="1.6"/><circle cx="934.59" cy="1232.97" r="1.8" fill="#b5452f"/><rect x="909.73" y="1227.84" width="5" height="6" fill="#e03a1a"/>
<path d="M882.16 1134.86 Q920.54 1112.7 963.78 1099.19 M898.92 1245.68 L916.49 1250.54" fill="none" stroke="#c98a5a" stroke-width="0.7"/>
<text transform="translate(847.8,1294) rotate(-97.1)" font-size="32" fill="#f03529" textLength="196">Arm - hot side</text>
<text transform="translate(959.9,1300.8) rotate(-100.7)" font-size="32" fill="#63e8e2" textLength="255">Alcohol - cold side</text>
</g>
<text x="511.3" y="1042.5" font-size="45" text-anchor="start" fill="#000" >h</text>
</g>
<!-- panel_i -->
<g id="panel_i">
<g fill="#5a1f9c"><circle cx="1159.67" cy="1104.32" r="9.3"/><circle cx="1180.87" cy="1106.69" r="9.3"/><circle cx="1202.07" cy="1101.62" r="9.3"/><circle cx="1223.27" cy="1099.93" r="9.3"/><circle cx="1244.47" cy="1099.93" r="9.3"/><circle cx="1265.67" cy="1102.3" r="9.3"/><circle cx="1286.87" cy="1106.69" r="9.3"/><circle cx="1308.07" cy="1107.7" r="9.3"/><circle cx="1329.27" cy="1105.68" r="9.3"/><circle cx="1350.47" cy="1104.32" r="9.3"/><circle cx="1371.67" cy="1105" r="9.3"/><circle cx="1392.87" cy="1102.3" r="9.3"/><circle cx="1414.07" cy="1102.97" r="9.3"/><circle cx="1435.27" cy="1104.32" r="9.3"/><circle cx="1456.46" cy="1104.32" r="9.3"/></g>
<g fill="#3b9149"><circle cx="1159.67" cy="1251.96" r="9.3"/><circle cx="1180.87" cy="1251.28" r="9.3"/><circle cx="1202.07" cy="1250.27" r="9.3"/><circle cx="1223.27" cy="1251.96" r="9.3"/><circle cx="1244.47" cy="1253.65" r="9.3"/><circle cx="1265.67" cy="1253.65" r="9.3"/><circle cx="1286.87" cy="1251.28" r="9.3"/><circle cx="1308.07" cy="1253.65" r="9.3"/><circle cx="1329.27" cy="1253.65" r="9.3"/><circle cx="1350.47" cy="1251.96" r="9.3"/><circle cx="1371.67" cy="1250.95" r="9.3"/><circle cx="1392.87" cy="1249.59" r="9.3"/><circle cx="1414.07" cy="1249.26" r="9.3"/><circle cx="1435.27" cy="1254.66" r="9.3"/><circle cx="1456.46" cy="1252.64" r="9.3"/></g>
<g fill="#e8591f"><circle cx="1159.67" cy="1299.93" r="9.3"/><circle cx="1180.87" cy="1300.27" r="9.3"/><circle cx="1202.07" cy="1299.59" r="9.3"/><circle cx="1223.27" cy="1299.26" r="9.3"/><circle cx="1244.47" cy="1298.92" r="9.3"/><circle cx="1265.67" cy="1299.59" r="9.3"/><circle cx="1286.87" cy="1299.59" r="9.3"/><circle cx="1308.07" cy="1300.27" r="9.3"/><circle cx="1329.27" cy="1300.95" r="9.3"/><circle cx="1350.47" cy="1300.27" r="9.3"/><circle cx="1371.67" cy="1299.26" r="9.3"/><circle cx="1392.87" cy="1299.59" r="9.3"/><circle cx="1414.07" cy="1300.61" r="9.3"/><circle cx="1435.27" cy="1298.92" r="9.3"/><circle cx="1456.46" cy="1299.59" r="9.3"/></g>
<rect x="1121.3" y="1006.4" width="372.9" height="383.1" fill="none" stroke="#1a1a1a" stroke-width="1.4"/>
<path d="M1138.47 1389.5v-11M1138.47 1006.4v11M1223.27 1389.5v-11M1223.27 1006.4v11M1308.07 1389.5v-11M1308.07 1006.4v11M1392.87 1389.5v-11M1392.87 1006.4v11M1477.66 1389.5v-11M1477.66 1006.4v11M1180.87 1389.5v-7M1180.87 1006.4v7M1265.67 1389.5v-7M1265.67 1006.4v7M1350.47 1389.5v-7M1350.47 1006.4v7M1435.27 1389.5v-7M1435.27 1006.4v7M1121.3 1340.36h11M1494.2 1340.36h-11M1121.3 1244.94h11M1494.2 1244.94h-11M1121.3 1149.53h11M1494.2 1149.53h-11M1121.3 1054.11h11M1494.2 1054.11h-11M1121.3 1292.65h7M1494.2 1292.65h-7M1121.3 1197.23h7M1494.2 1197.23h-7M1121.3 1101.82h7M1494.2 1101.82h-7" stroke="#1a1a1a" stroke-width="1.4" fill="none"/>
<text x="1138.47" y="1424.3" font-size="30" text-anchor="middle" fill="#000" >0</text>
<text x="1223.27" y="1424.3" font-size="30" text-anchor="middle" fill="#000" >4</text>
<text x="1308.07" y="1424.3" font-size="30" text-anchor="middle" fill="#000" >8</text>
<text x="1392.87" y="1424.3" font-size="30" text-anchor="middle" fill="#000" >12</text>
<text x="1477.66" y="1424.3" font-size="30" text-anchor="middle" fill="#000" >16</text>
<text x="1107.5" y="1350.66" font-size="30" text-anchor="end" fill="#000" >0</text>
<text x="1107.5" y="1255.24" font-size="30" text-anchor="end" fill="#000" >20</text>
<text x="1107.5" y="1159.83" font-size="30" text-anchor="end" fill="#000" >40</text>
<text x="1107.5" y="1064.41" font-size="30" text-anchor="end" fill="#000" >60</text>
<text x="1226" y="1469.9" font-size="32" text-anchor="start" fill="#000" >Time (min.)</text>
<text transform="translate(1057,1201) rotate(-90)" font-size="32" text-anchor="middle" fill="#000" ><tspan font-style="italic">V</tspan><tspan font-style="italic" font-size="21" dy="6">OC</tspan><tspan dy="-6"> (mV)</tspan></text>
<text x="1030.1" y="1043" font-size="45" text-anchor="start" fill="#000" >i</text>
<text x="1209" y="1080.3" font-size="29.5" text-anchor="start" fill="#5a1f9c" >Alcohol</text>
<text x="1217.5" y="1229.3" font-size="29.5" text-anchor="start" fill="#3b9149" >Moving</text>
<text x="1224.5" y="1347.2" font-size="29.5" text-anchor="start" fill="#e8591f" >Static</text>
<path d="M1163.9 1047.5 C1160 1055 1152.8 1063 1152.8 1069.8 A11.1 11.1 0 0 0 1175 1069.8 C1175 1063 1167.8 1055 1163.9 1047.5Z" fill="none" stroke="#5a1f9c" stroke-width="3.3" stroke-linejoin="round"/>
<g fill="none" stroke="#3b9149" stroke-width="3.3" stroke-linejoin="round" stroke-linecap="round"><circle cx="1176.79" cy="1186.42" r="5.1"/><path d="M1175.58 1193.41L1177.44 1194.77Q1178.92 1195.85 1179.62 1197.53L1181.75 1202.7Q1182.57 1204.66 1184.56 1205.41L1189.87 1207.4A3.04 3.04 0 0 1 1189.56 1213.48L1180.96 1210.35Q1179.53 1209.83 1179.1 1208.37L1177.83 1204.05L1176.79 1203.14L1174.97 1215L1180.51 1218.79Q1182.26 1219.99 1182.3 1222.12L1182.57 1237.5A2.74 2.74 0 0 1 1177.1 1237.5L1177.1 1224.85Q1177.1 1223.64 1176.08 1222.97L1170.41 1219.26L1168.92 1225.68Q1168.58 1227.16 1167.6 1228.33L1158.85 1238.72A2.97 2.97 0 0 1 1153.38 1236.41L1163.11 1225.49Q1164.32 1224.12 1164.59 1222.32L1167.67 1201.44L1166.15 1202.05L1162.8 1209.83A2.83 2.83 0 0 1 1157.21 1208.92L1160.4 1200.73Q1161.28 1198.46 1163.56 1197.61L1173.14 1194.02"/><path d="M1166.03 1215.31 L1170.41 1219.26"/></g>
<g fill="none" stroke="#e8591f" stroke-width="3.3" stroke-linejoin="round" stroke-linecap="round"><circle cx="1166.45" cy="1317.94" r="5.3"/><path d="M1156.72 1334.66 L1156.72 1349.87 Q1156.72 1358.68 1166.15 1358.68 L1175.88 1358.68"/><path d="M1185 1332.23 L1177.7 1332.23 L1169.19 1326.76 L1166.45 1326.76 Q1161.28 1326.76 1161.28 1331.93 L1161.28 1348.65 Q1161.28 1354.73 1167.37 1354.73 L1180.14 1354.73 L1180.14 1369.33 Q1180.14 1372.67 1182.99 1372.67 Q1185.91 1372.67 1185.91 1369.33 L1185.91 1351.69 Q1185.91 1348.04 1182.26 1348.04 L1173.14 1348.04 L1173.14 1338.01 L1170.1 1334.97"/><path d="M1173.14 1337.7 L1184.7 1337.7"/><path d="M1178.92 1343.18 L1216.62 1343.18"/><path d="M1165.54 1358.68 L1165.54 1373.89 M1198.08 1343.18 L1198.08 1373.89" stroke-linecap="butt"/><path d="M1157.03 1373.89 L1174.05 1373.89 M1189.26 1373.89 L1206.89 1373.89" stroke-linecap="butt" stroke-width="3.8"/><path d="M1185.31 1329.68 L1190.96 1329.68 L1189.87 1341.96 L1185.73 1341.96Z" stroke-width="3.6"/><path d="M1186.22 1338.92 L1189.87 1338.92 L1189.74 1341.35 L1186.1 1341.35Z" fill="#e8591f" stroke-width="2"/></g>
</g>
</svg>
</body></html>
